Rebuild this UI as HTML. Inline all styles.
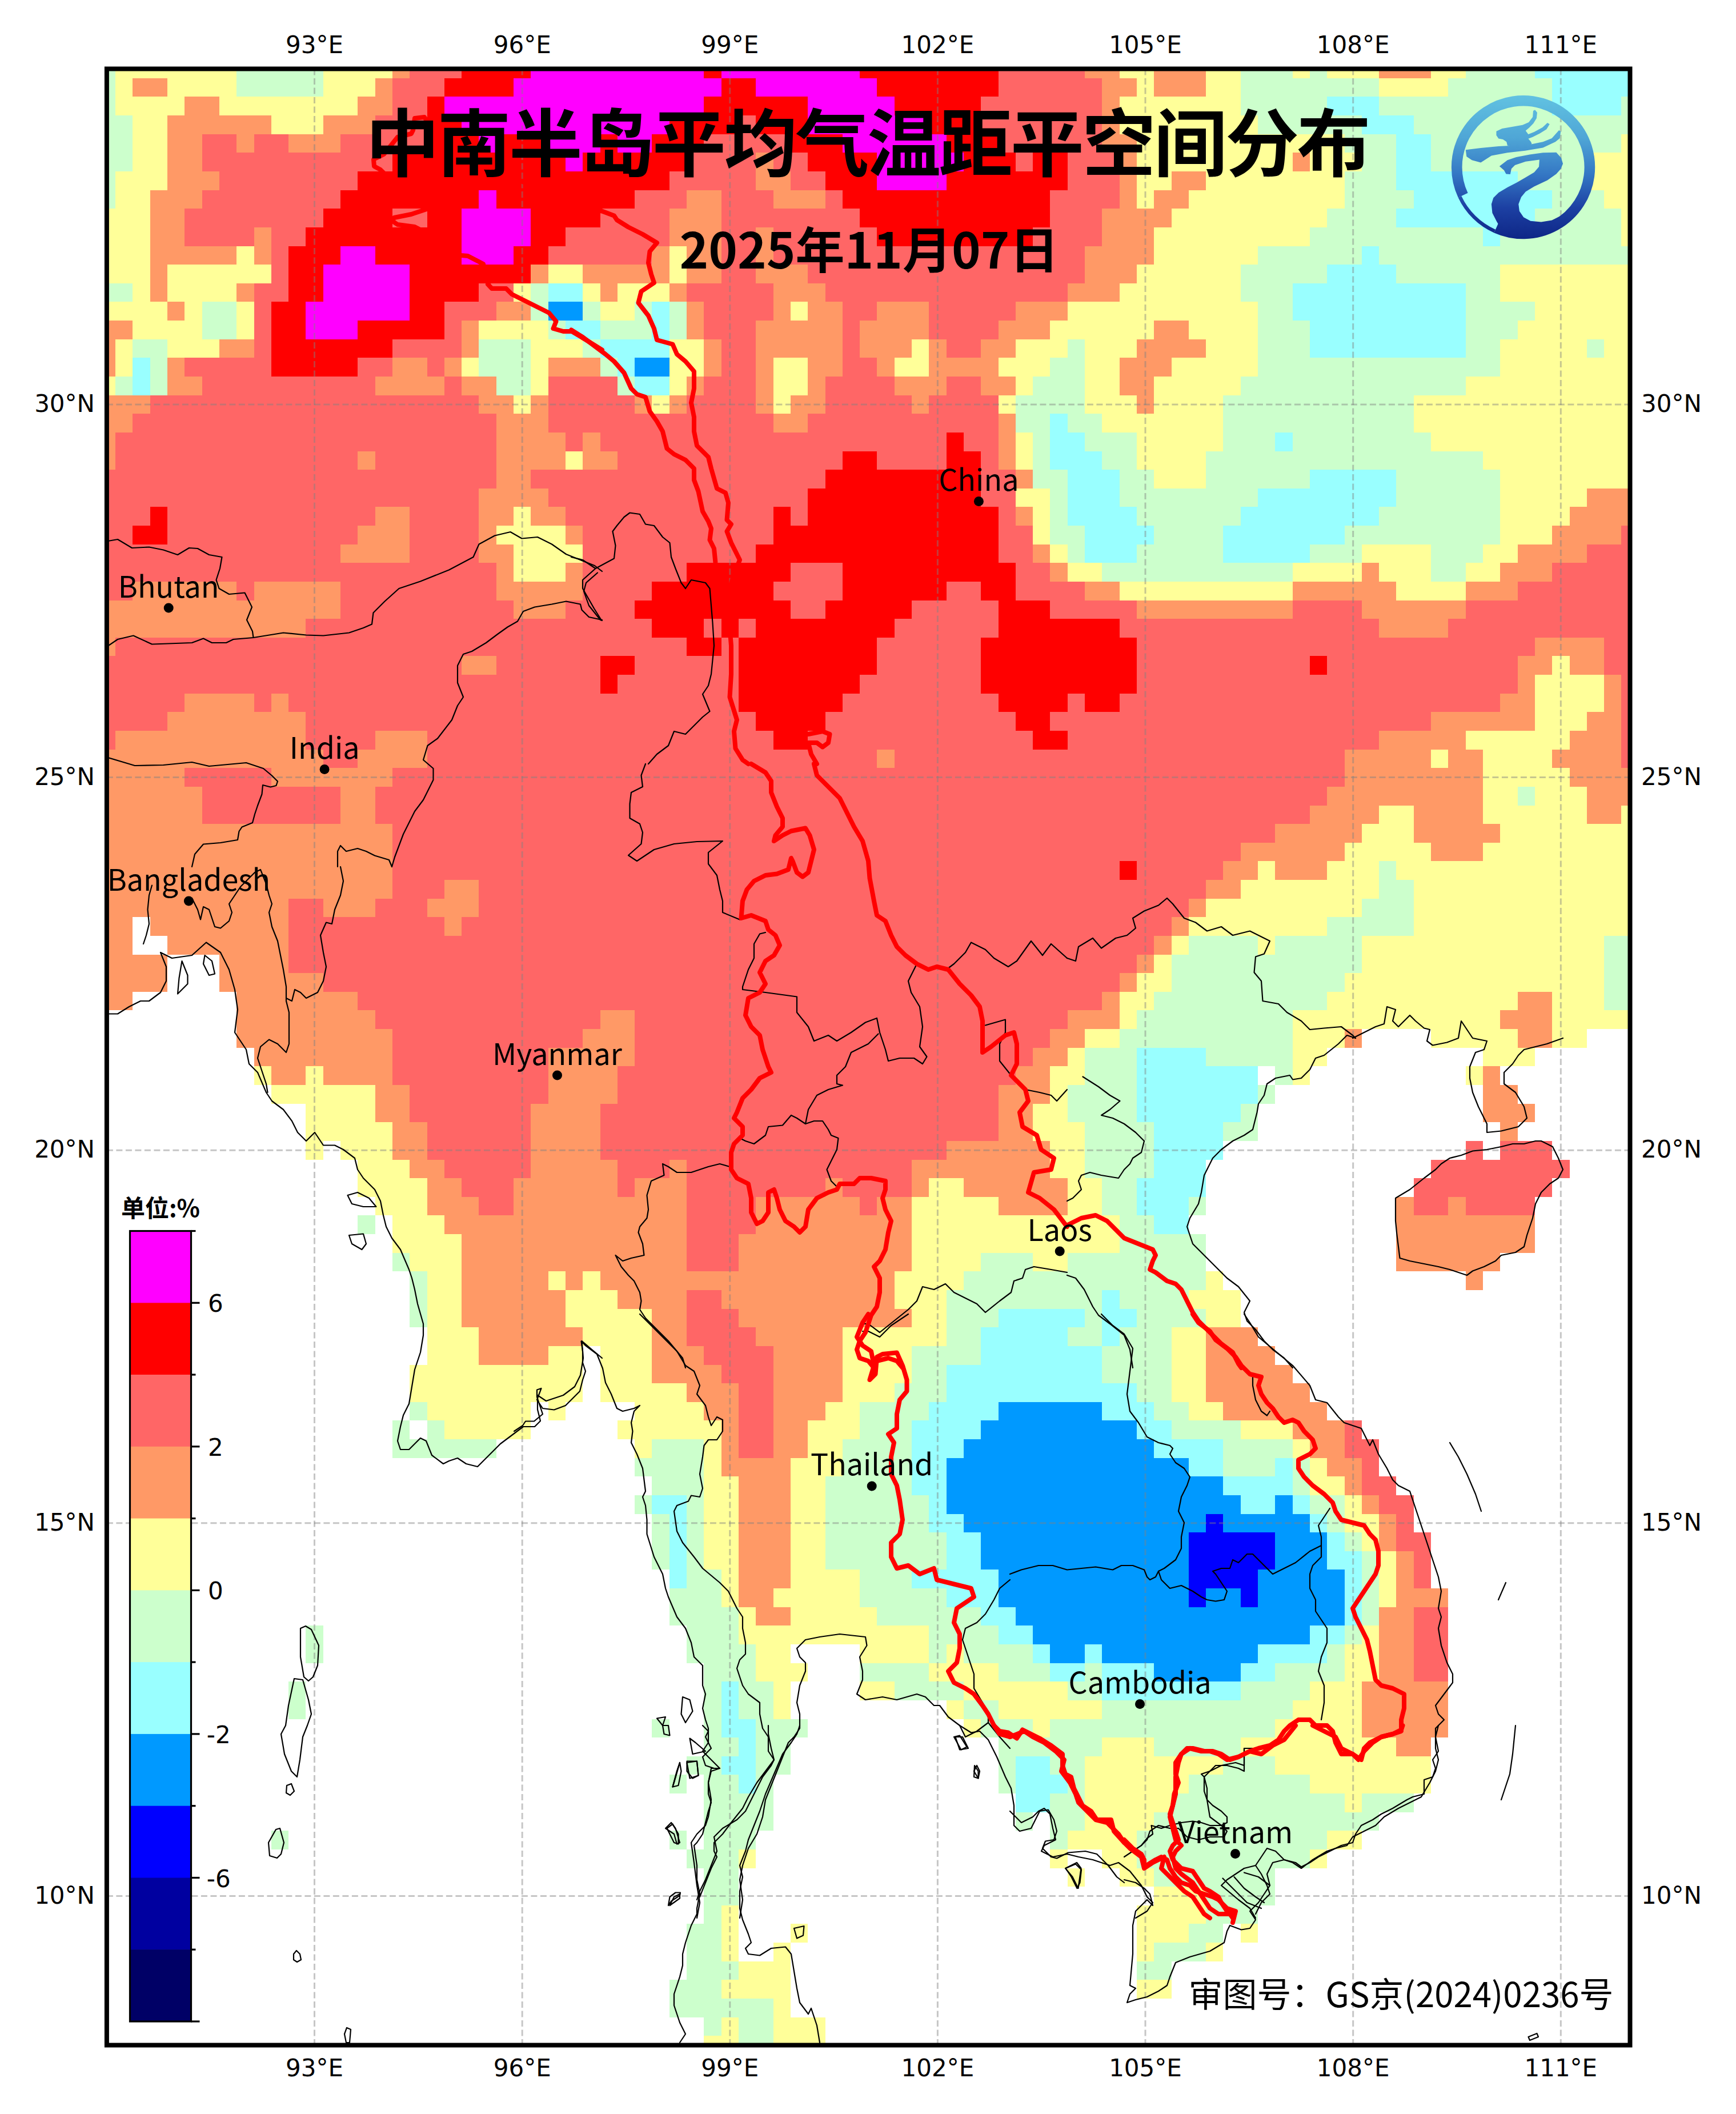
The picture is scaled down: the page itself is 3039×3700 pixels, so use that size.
<!DOCTYPE html>
<html><head><meta charset="utf-8"><title>中南半岛平均气温距平空间分布</title>
<style>
html,body{margin:0;padding:0;background:#fff;}
body{width:3039px;height:3700px;overflow:hidden;position:relative;}
svg{position:absolute;left:0;top:0;}
.tk{font-family:"DejaVu Sans",sans-serif;font-size:42px;fill:#000;}
.lb{font-family:"Noto Sans CJK SC","Liberation Sans",sans-serif;font-size:52px;fill:#000;}
.cj{font-family:"Noto Sans CJK SC","Noto Sans CJK JP",sans-serif;fill:#000;}
</style></head><body>
<svg width="3039" height="3700" viewBox="0 0 3039 3700" xmlns="http://www.w3.org/2000/svg">
<defs><clipPath id="ax"><rect x="186.9" y="120.5" width="2666.6" height="3459.0"/></clipPath></defs>
<g clip-path="url(#ax)">
<g shape-rendering="crispEdges"><path fill="#ccffcc" d="M186.9 120.5H202.1V136.8H186.9ZM414.2 120.5H565.7V136.8H414.2ZM2171.7 120.5H2262.6V136.8H2171.7ZM2292.9 120.5H2323.2V136.8H2292.9ZM2565.6 120.5H2686.9V136.8H2565.6ZM186.9 136.8H202.1V169.4H186.9ZM414.2 136.8H565.7V169.4H414.2ZM2171.7 136.8H2414.1V169.4H2171.7ZM2535.3 136.8H2717.2V169.4H2535.3ZM186.9 169.4H202.1V202.1H186.9ZM2171.7 169.4H2323.2V202.1H2171.7ZM2414.1 169.4H2717.2V202.1H2414.1ZM2838.4 169.4H2853.5V202.1H2838.4ZM186.9 202.1H232.4V234.7H186.9ZM2202.0 202.1H2383.8V234.7H2202.0ZM2474.7 202.1H2853.5V234.7H2474.7ZM186.9 234.7H232.4V267.3H186.9ZM2353.5 234.7H2444.4V267.3H2353.5ZM2505.0 234.7H2838.4V267.3H2505.0ZM186.9 267.3H232.4V300.0H186.9ZM2383.8 267.3H2444.4V300.0H2383.8ZM2505.0 267.3H2777.8V300.0H2505.0ZM186.9 300.0H202.1V332.6H186.9ZM2353.5 300.0H2444.4V332.6H2353.5ZM2656.6 300.0H2777.8V332.6H2656.6ZM186.9 332.6H202.1V365.2H186.9ZM2353.5 332.6H2474.7V365.2H2353.5ZM2717.2 332.6H2808.1V365.2H2717.2ZM2323.2 365.2H2444.4V397.9H2323.2ZM2686.9 365.2H2838.4V397.9H2686.9ZM2292.9 397.9H2595.9V430.5H2292.9ZM2626.3 397.9H2838.4V430.5H2626.3ZM2202.0 430.5H2383.8V463.1H2202.0ZM2414.1 430.5H2853.5V463.1H2414.1ZM2171.7 463.1H2323.2V495.8H2171.7ZM2444.4 463.1H2626.3V495.8H2444.4ZM186.9 495.8H232.4V528.4H186.9ZM929.3 495.8H959.6V528.4H929.3ZM2171.7 495.8H2262.6V528.4H2171.7ZM2565.6 495.8H2626.3V528.4H2565.6ZM353.6 528.4H414.2V561.0H353.6ZM929.3 528.4H959.6V561.0H929.3ZM1020.2 528.4H1050.5V561.0H1020.2ZM1111.1 528.4H1141.4V561.0H1111.1ZM1171.7 528.4H1202.0V561.0H1171.7ZM2202.0 528.4H2262.6V561.0H2202.0ZM2565.6 528.4H2686.9V561.0H2565.6ZM353.6 561.0H414.2V593.7H353.6ZM959.6 561.0H989.9V593.7H959.6ZM1050.5 561.0H1141.4V593.7H1050.5ZM1171.7 561.0H1202.0V593.7H1171.7ZM2202.0 561.0H2292.9V593.7H2202.0ZM2565.6 561.0H2656.6V593.7H2565.6ZM232.4 593.7H293.0V626.3H232.4ZM838.4 593.7H929.3V626.3H838.4ZM1020.2 593.7H1050.5V626.3H1020.2ZM1868.7 593.7H1899.0V626.3H1868.7ZM2202.0 593.7H2292.9V626.3H2202.0ZM2565.6 593.7H2626.3V626.3H2565.6ZM2777.8 593.7H2808.1V626.3H2777.8ZM262.7 626.3H293.0V658.9H262.7ZM838.4 626.3H929.3V658.9H838.4ZM1050.5 626.3H1080.8V658.9H1050.5ZM1838.4 626.3H1899.0V658.9H1838.4ZM2202.0 626.3H2626.3V658.9H2202.0ZM202.1 658.9H232.4V691.6H202.1ZM262.7 658.9H293.0V691.6H262.7ZM868.7 658.9H929.3V691.6H868.7ZM1080.8 658.9H1111.1V691.6H1080.8ZM1808.1 658.9H1899.0V691.6H1808.1ZM2171.7 658.9H2565.6V691.6H2171.7ZM1777.8 691.6H1899.0V724.2H1777.8ZM2141.4 691.6H2474.7V724.2H2141.4ZM1777.8 724.2H1838.4V756.8H1777.8ZM1868.7 724.2H1929.3V756.8H1868.7ZM2141.4 724.2H2474.7V756.8H2141.4ZM1808.1 756.8H1838.4V789.5H1808.1ZM1899.0 756.8H1989.9V789.5H1899.0ZM2141.4 756.8H2232.3V789.5H2141.4ZM2262.6 756.8H2505.0V789.5H2262.6ZM1808.1 789.5H1838.4V822.1H1808.1ZM1929.3 789.5H1989.9V822.1H1929.3ZM2111.1 789.5H2595.9V822.1H2111.1ZM1808.1 822.1H1868.7V854.7H1808.1ZM1959.6 822.1H2020.2V854.7H1959.6ZM2111.1 822.1H2292.9V854.7H2111.1ZM2444.4 822.1H2626.3V854.7H2444.4ZM1838.4 854.7H1868.7V887.4H1838.4ZM1959.6 854.7H2202.0V887.4H1959.6ZM2444.4 854.7H2626.3V887.4H2444.4ZM1838.4 887.4H1868.7V920.0H1838.4ZM1989.9 887.4H2171.7V920.0H1989.9ZM2414.1 887.4H2626.3V920.0H2414.1ZM1838.4 920.0H1899.0V952.6H1838.4ZM2020.2 920.0H2141.4V952.6H2020.2ZM2353.5 920.0H2626.3V952.6H2353.5ZM1868.7 952.6H1899.0V985.3H1868.7ZM1989.9 952.6H2141.4V985.3H1989.9ZM2292.9 952.6H2383.8V985.3H2292.9ZM2505.0 952.6H2595.9V985.3H2505.0ZM1929.3 985.3H2262.6V1017.9H1929.3ZM2505.0 985.3H2565.6V1017.9H2505.0ZM2656.6 1376.9H2686.9V1409.5H2656.6ZM2414.1 1507.4H2444.4V1540.0H2414.1ZM2414.1 1540.0H2474.7V1572.6H2414.1ZM2383.8 1572.6H2474.7V1605.3H2383.8ZM2323.2 1605.3H2474.7V1637.9H2323.2ZM2080.8 1637.9H2202.0V1670.5H2080.8ZM2232.3 1637.9H2383.8V1670.5H2232.3ZM2808.1 1637.9H2853.5V1670.5H2808.1ZM2050.5 1670.5H2383.8V1703.2H2050.5ZM2808.1 1670.5H2853.5V1703.2H2808.1ZM2050.5 1703.2H2353.5V1735.8H2050.5ZM2808.1 1703.2H2853.5V1735.8H2808.1ZM2020.2 1735.8H2323.2V1768.4H2020.2ZM2808.1 1735.8H2853.5V1768.4H2808.1ZM1989.9 1768.4H2262.6V1801.1H1989.9ZM1959.6 1801.1H2262.6V1833.7H1959.6ZM1899.0 1833.7H1989.9V1866.3H1899.0ZM2111.1 1833.7H2262.6V1866.3H2111.1ZM1899.0 1866.3H1989.9V1899.0H1899.0ZM2232.3 1866.3H2262.6V1899.0H2232.3ZM1868.7 1899.0H1989.9V1931.6H1868.7ZM2202.0 1899.0H2232.3V1931.6H2202.0ZM1868.7 1931.6H1989.9V1964.2H1868.7ZM2171.7 1931.6H2202.0V1964.2H2171.7ZM1899.0 1964.2H2020.2V1996.9H1899.0ZM2141.4 1964.2H2202.0V1996.9H2141.4ZM1899.0 1996.9H2020.2V2029.5H1899.0ZM1899.0 2029.5H2020.2V2062.1H1899.0ZM1929.3 2062.1H1989.9V2094.8H1929.3ZM1929.3 2094.8H1989.9V2127.4H1929.3ZM2080.8 2094.8H2111.1V2127.4H2080.8ZM626.3 2127.4H656.6V2160.0H626.3ZM1959.6 2127.4H2020.2V2160.0H1959.6ZM1959.6 2160.0H2111.1V2192.7H1959.6ZM686.9 2192.7H717.2V2225.3H686.9ZM1717.2 2192.7H1808.1V2225.3H1717.2ZM1868.7 2192.7H2111.1V2225.3H1868.7ZM717.2 2225.3H747.5V2257.9H717.2ZM1686.9 2225.3H2111.1V2257.9H1686.9ZM717.2 2257.9H747.5V2290.6H717.2ZM1656.6 2257.9H1929.3V2290.6H1656.6ZM1959.6 2257.9H2080.8V2290.6H1959.6ZM717.2 2290.6H747.5V2323.2H717.2ZM1656.6 2290.6H1747.5V2323.2H1656.6ZM1899.0 2290.6H1929.3V2323.2H1899.0ZM1989.9 2290.6H2111.1V2323.2H1989.9ZM1656.6 2323.2H1717.2V2355.8H1656.6ZM1868.7 2323.2H1929.3V2355.8H1868.7ZM1959.6 2323.2H2050.5V2355.8H1959.6ZM1596.0 2355.8H1717.2V2388.5H1596.0ZM1929.3 2355.8H2050.5V2388.5H1929.3ZM1596.0 2388.5H1656.6V2421.1H1596.0ZM1929.3 2388.5H2050.5V2421.1H1929.3ZM1565.7 2421.1H1656.6V2453.7H1565.7ZM1989.9 2421.1H2050.5V2453.7H1989.9ZM717.2 2453.7H747.5V2486.4H717.2ZM1505.1 2453.7H1626.3V2486.4H1505.1ZM2020.2 2453.7H2080.8V2486.4H2020.2ZM686.9 2486.4H717.2V2519.0H686.9ZM747.5 2486.4H777.8V2519.0H747.5ZM1505.1 2486.4H1596.0V2519.0H1505.1ZM2050.5 2486.4H2171.7V2519.0H2050.5ZM686.9 2519.0H868.7V2551.6H686.9ZM1141.4 2519.0H1232.3V2551.6H1141.4ZM1474.8 2519.0H1596.0V2551.6H1474.8ZM2141.4 2519.0H2262.6V2551.6H2141.4ZM1111.1 2551.6H1232.3V2584.3H1111.1ZM1474.8 2551.6H1596.0V2584.3H1474.8ZM2141.4 2551.6H2232.3V2584.3H2141.4ZM2262.6 2551.6H2292.9V2584.3H2262.6ZM1141.4 2584.3H1232.3V2616.9H1141.4ZM1444.5 2584.3H1596.0V2616.9H1444.5ZM2262.6 2584.3H2292.9V2616.9H2262.6ZM1111.1 2616.9H1141.4V2649.5H1111.1ZM1202.0 2616.9H1232.3V2649.5H1202.0ZM1444.5 2616.9H1626.3V2649.5H1444.5ZM2292.9 2616.9H2353.5V2649.5H2292.9ZM1141.4 2649.5H1171.7V2682.2H1141.4ZM1202.0 2649.5H1232.3V2682.2H1202.0ZM1444.5 2649.5H1626.3V2682.2H1444.5ZM2323.2 2649.5H2353.5V2682.2H2323.2ZM1141.4 2682.2H1171.7V2714.8H1141.4ZM1202.0 2682.2H1232.3V2714.8H1202.0ZM1444.5 2682.2H1656.6V2714.8H1444.5ZM2353.5 2682.2H2383.8V2714.8H2353.5ZM1141.4 2714.8H1171.7V2747.4H1141.4ZM1202.0 2714.8H1232.3V2747.4H1202.0ZM1444.5 2714.8H1656.6V2747.4H1444.5ZM2383.8 2714.8H2414.1V2747.4H2383.8ZM1202.0 2747.4H1262.6V2780.0H1202.0ZM1505.1 2747.4H1596.0V2780.0H1505.1ZM2383.8 2747.4H2414.1V2780.0H2383.8ZM1171.7 2780.0H1262.6V2812.7H1171.7ZM1505.1 2780.0H1656.6V2812.7H1505.1ZM2383.8 2780.0H2414.1V2812.7H2383.8ZM1171.7 2812.7H1292.9V2845.3H1171.7ZM1535.4 2812.7H1717.2V2845.3H1535.4ZM2383.8 2812.7H2414.1V2845.3H2383.8ZM535.4 2845.3H565.7V2877.9H535.4ZM1202.0 2845.3H1292.9V2877.9H1202.0ZM1626.3 2845.3H1747.5V2877.9H1626.3ZM2353.5 2845.3H2383.8V2877.9H2353.5ZM535.4 2877.9H565.7V2910.6H535.4ZM1202.0 2877.9H1323.2V2910.6H1202.0ZM1626.3 2877.9H1656.6V2910.6H1626.3ZM1686.9 2877.9H1808.1V2910.6H1686.9ZM2323.2 2877.9H2353.5V2910.6H2323.2ZM1232.3 2910.6H1323.2V2943.2H1232.3ZM1505.1 2910.6H1626.3V2943.2H1505.1ZM1747.5 2910.6H1838.4V2943.2H1747.5ZM1899.0 2910.6H1929.3V2943.2H1899.0ZM2232.3 2910.6H2353.5V2943.2H2232.3ZM505.1 2943.2H535.4V2975.8H505.1ZM1232.3 2943.2H1262.6V2975.8H1232.3ZM1292.9 2943.2H1353.5V2975.8H1292.9ZM1565.7 2943.2H1686.9V2975.8H1565.7ZM1868.7 2943.2H1929.3V2975.8H1868.7ZM2171.7 2943.2H2292.9V2975.8H2171.7ZM505.1 2975.8H535.4V3008.5H505.1ZM1232.3 2975.8H1262.6V3008.5H1232.3ZM1292.9 2975.8H1353.5V3008.5H1292.9ZM1686.9 2975.8H1747.5V3008.5H1686.9ZM1929.3 2975.8H2262.6V3008.5H1929.3ZM1141.4 3008.5H1171.7V3041.1H1141.4ZM1232.3 3008.5H1262.6V3041.1H1232.3ZM1323.2 3008.5H1414.2V3041.1H1323.2ZM1717.2 3008.5H1808.1V3041.1H1717.2ZM1838.4 3008.5H2232.3V3041.1H1838.4ZM1232.3 3041.1H1292.9V3073.7H1232.3ZM1323.2 3041.1H1383.8V3073.7H1323.2ZM1747.5 3041.1H1929.3V3073.7H1747.5ZM2020.2 3041.1H2171.7V3073.7H2020.2ZM1202.0 3073.7H1262.6V3106.4H1202.0ZM1323.2 3073.7H1383.8V3106.4H1323.2ZM1747.5 3073.7H1777.8V3106.4H1747.5ZM1838.4 3073.7H1899.0V3106.4H1838.4ZM2141.4 3073.7H2232.3V3106.4H2141.4ZM1171.7 3106.4H1202.0V3139.0H1171.7ZM1232.3 3106.4H1292.9V3139.0H1232.3ZM1323.2 3106.4H1353.5V3139.0H1323.2ZM1747.5 3106.4H1777.8V3139.0H1747.5ZM1868.7 3106.4H1899.0V3139.0H1868.7ZM2080.8 3106.4H2292.9V3139.0H2080.8ZM1232.3 3139.0H1353.5V3171.6H1232.3ZM1838.4 3139.0H1899.0V3171.6H1838.4ZM2050.5 3139.0H2353.5V3171.6H2050.5ZM2383.8 3139.0H2474.7V3171.6H2383.8ZM1232.3 3171.6H1353.5V3204.3H1232.3ZM1777.8 3171.6H1808.1V3204.3H1777.8ZM1838.4 3171.6H1899.0V3204.3H1838.4ZM2020.2 3171.6H2414.1V3204.3H2020.2ZM474.8 3204.3H505.1V3236.9H474.8ZM1171.7 3204.3H1202.0V3236.9H1171.7ZM1232.3 3204.3H1323.2V3236.9H1232.3ZM1838.4 3204.3H1868.7V3236.9H1838.4ZM1989.9 3204.3H2323.2V3236.9H1989.9ZM1202.0 3236.9H1292.9V3269.5H1202.0ZM1989.9 3236.9H2292.9V3269.5H1989.9ZM1232.3 3269.5H1292.9V3302.2H1232.3ZM2020.2 3269.5H2232.3V3302.2H2020.2ZM1232.3 3302.2H1292.9V3334.8H1232.3ZM2111.1 3302.2H2232.3V3334.8H2111.1ZM1232.3 3334.8H1262.6V3367.4H1232.3ZM2111.1 3334.8H2202.0V3367.4H2111.1ZM1202.0 3367.4H1262.6V3400.1H1202.0ZM2080.8 3367.4H2141.4V3400.1H2080.8ZM1202.0 3400.1H1262.6V3432.7H1202.0ZM2020.2 3400.1H2111.1V3432.7H2020.2ZM1202.0 3432.7H1292.9V3465.3H1202.0ZM1989.9 3432.7H2050.5V3465.3H1989.9ZM1171.7 3465.3H1262.6V3498.0H1171.7ZM1171.7 3498.0H1353.5V3530.6H1171.7ZM1232.3 3530.6H1262.6V3563.2H1232.3ZM1292.9 3530.6H1353.5V3563.2H1292.9ZM1292.9 3563.2H1353.5V3579.5H1292.9Z"/><path fill="#ffff99" d="M202.1 120.5H414.2V136.8H202.1ZM565.7 120.5H686.9V136.8H565.7ZM1959.6 120.5H2020.2V136.8H1959.6ZM2111.1 120.5H2171.7V136.8H2111.1ZM2262.6 120.5H2292.9V136.8H2262.6ZM2323.2 120.5H2414.1V136.8H2323.2ZM2505.0 120.5H2565.6V136.8H2505.0ZM202.1 136.8H232.4V169.4H202.1ZM293.0 136.8H414.2V169.4H293.0ZM565.7 136.8H656.6V169.4H565.7ZM1989.9 136.8H2020.2V169.4H1989.9ZM2111.1 136.8H2171.7V169.4H2111.1ZM2414.1 136.8H2535.3V169.4H2414.1ZM202.1 169.4H323.3V202.1H202.1ZM383.9 169.4H626.3V202.1H383.9ZM1959.6 169.4H2171.7V202.1H1959.6ZM232.4 202.1H293.0V234.7H232.4ZM474.8 202.1H565.7V234.7H474.8ZM1959.6 202.1H2202.0V234.7H1959.6ZM232.4 234.7H293.0V267.3H232.4ZM1989.9 234.7H2353.5V267.3H1989.9ZM2838.4 234.7H2853.5V267.3H2838.4ZM232.4 267.3H293.0V300.0H232.4ZM1989.9 267.3H2262.6V300.0H1989.9ZM2292.9 267.3H2383.8V300.0H2292.9ZM2777.8 267.3H2853.5V300.0H2777.8ZM202.1 300.0H293.0V332.6H202.1ZM1989.9 300.0H2050.5V332.6H1989.9ZM2111.1 300.0H2353.5V332.6H2111.1ZM2777.8 300.0H2853.5V332.6H2777.8ZM202.1 332.6H262.7V365.2H202.1ZM1989.9 332.6H2020.2V365.2H1989.9ZM2080.8 332.6H2353.5V365.2H2080.8ZM2808.1 332.6H2853.5V365.2H2808.1ZM186.9 365.2H262.7V397.9H186.9ZM2050.5 365.2H2323.2V397.9H2050.5ZM2838.4 365.2H2853.5V397.9H2838.4ZM186.9 397.9H262.7V430.5H186.9ZM2020.2 397.9H2292.9V430.5H2020.2ZM2838.4 397.9H2853.5V430.5H2838.4ZM186.9 430.5H262.7V463.1H186.9ZM414.2 430.5H444.5V463.1H414.2ZM1171.7 430.5H1202.0V463.1H1171.7ZM2020.2 430.5H2202.0V463.1H2020.2ZM186.9 463.1H262.7V495.8H186.9ZM293.0 463.1H474.8V495.8H293.0ZM959.6 463.1H1020.2V495.8H959.6ZM1171.7 463.1H1202.0V495.8H1171.7ZM1989.9 463.1H2171.7V495.8H1989.9ZM2626.3 463.1H2853.5V495.8H2626.3ZM232.4 495.8H262.7V528.4H232.4ZM293.0 495.8H414.2V528.4H293.0ZM899.0 495.8H929.3V528.4H899.0ZM1020.2 495.8H1050.5V528.4H1020.2ZM1080.8 495.8H1171.7V528.4H1080.8ZM1959.6 495.8H2171.7V528.4H1959.6ZM2626.3 495.8H2853.5V528.4H2626.3ZM186.9 528.4H293.0V561.0H186.9ZM323.3 528.4H353.6V561.0H323.3ZM414.2 528.4H444.5V561.0H414.2ZM1050.5 528.4H1111.1V561.0H1050.5ZM1383.8 528.4H1414.2V561.0H1383.8ZM1868.7 528.4H2202.0V561.0H1868.7ZM2686.9 528.4H2853.5V561.0H2686.9ZM232.4 561.0H353.6V593.7H232.4ZM414.2 561.0H444.5V593.7H414.2ZM838.4 561.0H959.6V593.7H838.4ZM1838.4 561.0H2020.2V593.7H1838.4ZM2080.8 561.0H2202.0V593.7H2080.8ZM2656.6 561.0H2853.5V593.7H2656.6ZM202.1 593.7H232.4V626.3H202.1ZM293.0 593.7H383.9V626.3H293.0ZM929.3 593.7H1020.2V626.3H929.3ZM1171.7 593.7H1232.3V626.3H1171.7ZM1596.0 593.7H1626.3V626.3H1596.0ZM1777.8 593.7H1868.7V626.3H1777.8ZM1899.0 593.7H1989.9V626.3H1899.0ZM2111.1 593.7H2202.0V626.3H2111.1ZM2626.3 593.7H2777.8V626.3H2626.3ZM2808.1 593.7H2853.5V626.3H2808.1ZM202.1 626.3H232.4V658.9H202.1ZM808.1 626.3H838.4V658.9H808.1ZM929.3 626.3H959.6V658.9H929.3ZM1171.7 626.3H1232.3V658.9H1171.7ZM1353.5 626.3H1414.2V658.9H1353.5ZM1565.7 626.3H1626.3V658.9H1565.7ZM1747.5 626.3H1838.4V658.9H1747.5ZM1899.0 626.3H1959.6V658.9H1899.0ZM2050.5 626.3H2202.0V658.9H2050.5ZM2626.3 626.3H2853.5V658.9H2626.3ZM186.9 658.9H202.1V691.6H186.9ZM929.3 658.9H959.6V691.6H929.3ZM1171.7 658.9H1202.0V691.6H1171.7ZM1353.5 658.9H1414.2V691.6H1353.5ZM1777.8 658.9H1808.1V691.6H1777.8ZM1899.0 658.9H1959.6V691.6H1899.0ZM2020.2 658.9H2171.7V691.6H2020.2ZM2565.6 658.9H2853.5V691.6H2565.6ZM899.0 691.6H929.3V724.2H899.0ZM1141.4 691.6H1171.7V724.2H1141.4ZM1353.5 691.6H1383.8V724.2H1353.5ZM1747.5 691.6H1777.8V724.2H1747.5ZM1899.0 691.6H1989.9V724.2H1899.0ZM2020.2 691.6H2141.4V724.2H2020.2ZM2474.7 691.6H2853.5V724.2H2474.7ZM1929.3 724.2H2141.4V756.8H1929.3ZM2474.7 724.2H2853.5V756.8H2474.7ZM1777.8 756.8H1808.1V789.5H1777.8ZM1989.9 756.8H2141.4V789.5H1989.9ZM2505.0 756.8H2853.5V789.5H2505.0ZM989.9 789.5H1020.2V822.1H989.9ZM1777.8 789.5H1808.1V822.1H1777.8ZM1989.9 789.5H2111.1V822.1H1989.9ZM2595.9 789.5H2853.5V822.1H2595.9ZM2020.2 822.1H2111.1V854.7H2020.2ZM2626.3 822.1H2853.5V854.7H2626.3ZM1777.8 854.7H1838.4V887.4H1777.8ZM2626.3 854.7H2777.8V887.4H2626.3ZM899.0 887.4H929.3V920.0H899.0ZM1808.1 887.4H1838.4V920.0H1808.1ZM2626.3 887.4H2747.5V920.0H2626.3ZM868.7 920.0H989.9V952.6H868.7ZM1808.1 920.0H1838.4V952.6H1808.1ZM2626.3 920.0H2717.2V952.6H2626.3ZM899.0 952.6H1020.2V985.3H899.0ZM1838.4 952.6H1868.7V985.3H1838.4ZM2383.8 952.6H2505.0V985.3H2383.8ZM2595.9 952.6H2656.6V985.3H2595.9ZM899.0 985.3H989.9V1017.9H899.0ZM1868.7 985.3H1929.3V1017.9H1868.7ZM2262.6 985.3H2383.8V1017.9H2262.6ZM2414.1 985.3H2505.0V1017.9H2414.1ZM2565.6 985.3H2626.3V1017.9H2565.6ZM1959.6 1017.9H2262.6V1050.5H1959.6ZM2444.4 1017.9H2565.6V1050.5H2444.4ZM2717.2 1148.4H2747.5V1181.1H2717.2ZM2686.9 1181.1H2808.1V1213.7H2686.9ZM2686.9 1213.7H2808.1V1246.3H2686.9ZM2686.9 1246.3H2777.8V1279.0H2686.9ZM2565.6 1279.0H2747.5V1311.6H2565.6ZM2505.0 1311.6H2535.3V1344.2H2505.0ZM2595.9 1311.6H2717.2V1344.2H2595.9ZM2595.9 1344.2H2747.5V1376.9H2595.9ZM2595.9 1376.9H2656.6V1409.5H2595.9ZM2686.9 1376.9H2777.8V1409.5H2686.9ZM2414.1 1409.5H2474.7V1442.1H2414.1ZM2595.9 1409.5H2777.8V1442.1H2595.9ZM2838.4 1409.5H2853.5V1442.1H2838.4ZM2383.8 1442.1H2474.7V1474.7H2383.8ZM2626.3 1442.1H2853.5V1474.7H2626.3ZM2353.5 1474.7H2505.0V1507.4H2353.5ZM2595.9 1474.7H2853.5V1507.4H2595.9ZM2202.0 1507.4H2232.3V1540.0H2202.0ZM2323.2 1507.4H2414.1V1540.0H2323.2ZM2444.4 1507.4H2853.5V1540.0H2444.4ZM2171.7 1540.0H2414.1V1572.6H2171.7ZM2474.7 1540.0H2853.5V1572.6H2474.7ZM2111.1 1572.6H2383.8V1605.3H2111.1ZM2474.7 1572.6H2853.5V1605.3H2474.7ZM2080.8 1605.3H2323.2V1637.9H2080.8ZM2474.7 1605.3H2853.5V1637.9H2474.7ZM2050.5 1637.9H2080.8V1670.5H2050.5ZM2202.0 1637.9H2232.3V1670.5H2202.0ZM2383.8 1637.9H2808.1V1670.5H2383.8ZM2020.2 1670.5H2050.5V1703.2H2020.2ZM2383.8 1670.5H2808.1V1703.2H2383.8ZM1989.9 1703.2H2050.5V1735.8H1989.9ZM2353.5 1703.2H2808.1V1735.8H2353.5ZM1959.6 1735.8H2020.2V1768.4H1959.6ZM2323.2 1735.8H2656.6V1768.4H2323.2ZM2717.2 1735.8H2808.1V1768.4H2717.2ZM1959.6 1768.4H1989.9V1801.1H1959.6ZM2262.6 1768.4H2626.3V1801.1H2262.6ZM2717.2 1768.4H2853.5V1801.1H2717.2ZM1899.0 1801.1H1959.6V1833.7H1899.0ZM2262.6 1801.1H2353.5V1833.7H2262.6ZM2505.0 1801.1H2656.6V1833.7H2505.0ZM2717.2 1801.1H2777.8V1833.7H2717.2ZM1868.7 1833.7H1899.0V1866.3H1868.7ZM2262.6 1833.7H2323.2V1866.3H2262.6ZM2595.9 1833.7H2686.9V1866.3H2595.9ZM444.5 1866.3H474.8V1899.0H444.5ZM535.4 1866.3H565.7V1899.0H535.4ZM1838.4 1866.3H1899.0V1899.0H1838.4ZM2262.6 1866.3H2292.9V1899.0H2262.6ZM2565.6 1866.3H2595.9V1899.0H2565.6ZM474.8 1899.0H656.6V1931.6H474.8ZM1838.4 1899.0H1868.7V1931.6H1838.4ZM535.4 1931.6H656.6V1964.2H535.4ZM1808.1 1931.6H1868.7V1964.2H1808.1ZM535.4 1964.2H686.9V1996.9H535.4ZM1808.1 1964.2H1899.0V1996.9H1808.1ZM535.4 1996.9H565.7V2029.5H535.4ZM596.0 1996.9H686.9V2029.5H596.0ZM1838.4 1996.9H1899.0V2029.5H1838.4ZM626.3 2029.5H717.2V2062.1H626.3ZM1838.4 2029.5H1899.0V2062.1H1838.4ZM626.3 2062.1H747.5V2094.8H626.3ZM1626.3 2062.1H1686.9V2094.8H1626.3ZM1868.7 2062.1H1929.3V2094.8H1868.7ZM656.6 2094.8H747.5V2127.4H656.6ZM1596.0 2094.8H1747.5V2127.4H1596.0ZM1868.7 2094.8H1929.3V2127.4H1868.7ZM686.9 2127.4H777.8V2160.0H686.9ZM1596.0 2127.4H1959.6V2160.0H1596.0ZM686.9 2160.0H808.1V2192.7H686.9ZM1596.0 2160.0H1959.6V2192.7H1596.0ZM717.2 2192.7H808.1V2225.3H717.2ZM1596.0 2192.7H1717.2V2225.3H1596.0ZM1808.1 2192.7H1868.7V2225.3H1808.1ZM747.5 2225.3H808.1V2257.9H747.5ZM959.6 2225.3H989.9V2257.9H959.6ZM1020.2 2225.3H1050.5V2257.9H1020.2ZM1565.7 2225.3H1686.9V2257.9H1565.7ZM2111.1 2225.3H2141.4V2257.9H2111.1ZM747.5 2257.9H808.1V2290.6H747.5ZM989.9 2257.9H1080.8V2290.6H989.9ZM1565.7 2257.9H1656.6V2290.6H1565.7ZM2080.8 2257.9H2171.7V2290.6H2080.8ZM747.5 2290.6H808.1V2323.2H747.5ZM989.9 2290.6H1141.4V2323.2H989.9ZM1596.0 2290.6H1656.6V2323.2H1596.0ZM2111.1 2290.6H2171.7V2323.2H2111.1ZM747.5 2323.2H838.4V2355.8H747.5ZM1020.2 2323.2H1141.4V2355.8H1020.2ZM1474.8 2323.2H1656.6V2355.8H1474.8ZM2050.5 2323.2H2111.1V2355.8H2050.5ZM747.5 2355.8H838.4V2388.5H747.5ZM959.6 2355.8H1020.2V2388.5H959.6ZM1050.5 2355.8H1141.4V2388.5H1050.5ZM1474.8 2355.8H1596.0V2388.5H1474.8ZM2050.5 2355.8H2111.1V2388.5H2050.5ZM717.2 2388.5H1020.2V2421.1H717.2ZM1050.5 2388.5H1141.4V2421.1H1050.5ZM1474.8 2388.5H1596.0V2421.1H1474.8ZM2050.5 2388.5H2111.1V2421.1H2050.5ZM717.2 2421.1H1020.2V2453.7H717.2ZM1050.5 2421.1H1202.0V2453.7H1050.5ZM1474.8 2421.1H1565.7V2453.7H1474.8ZM2050.5 2421.1H2111.1V2453.7H2050.5ZM747.5 2453.7H929.3V2486.4H747.5ZM959.6 2453.7H989.9V2486.4H959.6ZM1111.1 2453.7H1232.3V2486.4H1111.1ZM1444.5 2453.7H1505.1V2486.4H1444.5ZM2080.8 2453.7H2141.4V2486.4H2080.8ZM777.8 2486.4H929.3V2519.0H777.8ZM1080.8 2486.4H1262.6V2519.0H1080.8ZM1414.2 2486.4H1505.1V2519.0H1414.2ZM2171.7 2486.4H2262.6V2519.0H2171.7ZM1111.1 2519.0H1141.4V2551.6H1111.1ZM1232.3 2519.0H1262.6V2551.6H1232.3ZM1414.2 2519.0H1474.8V2551.6H1414.2ZM2262.6 2519.0H2292.9V2551.6H2262.6ZM1232.3 2551.6H1262.6V2584.3H1232.3ZM1383.8 2551.6H1474.8V2584.3H1383.8ZM2292.9 2551.6H2323.2V2584.3H2292.9ZM1232.3 2584.3H1292.9V2616.9H1232.3ZM1383.8 2584.3H1444.5V2616.9H1383.8ZM2292.9 2584.3H2353.5V2616.9H2292.9ZM1232.3 2616.9H1292.9V2649.5H1232.3ZM1383.8 2616.9H1444.5V2649.5H1383.8ZM2353.5 2616.9H2383.8V2649.5H2353.5ZM1232.3 2649.5H1292.9V2682.2H1232.3ZM1383.8 2649.5H1444.5V2682.2H1383.8ZM2353.5 2649.5H2414.1V2682.2H2353.5ZM1232.3 2682.2H1292.9V2714.8H1232.3ZM1383.8 2682.2H1444.5V2714.8H1383.8ZM2383.8 2682.2H2414.1V2714.8H2383.8ZM1232.3 2714.8H1292.9V2747.4H1232.3ZM1383.8 2714.8H1444.5V2747.4H1383.8ZM2414.1 2714.8H2444.4V2747.4H2414.1ZM1262.6 2747.4H1292.9V2780.0H1262.6ZM1383.8 2747.4H1505.1V2780.0H1383.8ZM2414.1 2747.4H2444.4V2780.0H2414.1ZM1262.6 2780.0H1292.9V2812.7H1262.6ZM1353.5 2780.0H1505.1V2812.7H1353.5ZM2414.1 2780.0H2444.4V2812.7H2414.1ZM1292.9 2812.7H1323.2V2845.3H1292.9ZM1383.8 2812.7H1535.4V2845.3H1383.8ZM1292.9 2845.3H1626.3V2877.9H1292.9ZM2383.8 2845.3H2414.1V2877.9H2383.8ZM1323.2 2877.9H1383.8V2910.6H1323.2ZM1505.1 2877.9H1626.3V2910.6H1505.1ZM1656.6 2877.9H1686.9V2910.6H1656.6ZM2353.5 2877.9H2414.1V2910.6H2353.5ZM1323.2 2910.6H1414.2V2943.2H1323.2ZM1626.3 2910.6H1747.5V2943.2H1626.3ZM2353.5 2910.6H2414.1V2943.2H2353.5ZM1353.5 2943.2H1383.8V2975.8H1353.5ZM1505.1 2943.2H1565.7V2975.8H1505.1ZM1686.9 2943.2H1868.7V2975.8H1686.9ZM2292.9 2943.2H2383.8V2975.8H2292.9ZM1353.5 2975.8H1383.8V3008.5H1353.5ZM1656.6 2975.8H1686.9V3008.5H1656.6ZM1747.5 2975.8H1929.3V3008.5H1747.5ZM2262.6 2975.8H2383.8V3008.5H2262.6ZM1686.9 3008.5H1717.2V3041.1H1686.9ZM1808.1 3008.5H1838.4V3041.1H1808.1ZM2232.3 3008.5H2383.8V3041.1H2232.3ZM1929.3 3041.1H2020.2V3073.7H1929.3ZM2171.7 3041.1H2444.4V3073.7H2171.7ZM1899.0 3073.7H2141.4V3106.4H1899.0ZM2232.3 3073.7H2505.0V3106.4H2232.3ZM1899.0 3106.4H2080.8V3139.0H1899.0ZM2292.9 3106.4H2505.0V3139.0H2292.9ZM1899.0 3139.0H2050.5V3171.6H1899.0ZM2353.5 3139.0H2383.8V3171.6H2353.5ZM1899.0 3171.6H2020.2V3204.3H1899.0ZM1868.7 3204.3H1989.9V3236.9H1868.7ZM2323.2 3204.3H2383.8V3236.9H2323.2ZM1292.9 3236.9H1323.2V3269.5H1292.9ZM1838.4 3236.9H1868.7V3269.5H1838.4ZM1929.3 3236.9H1989.9V3269.5H1929.3ZM2292.9 3236.9H2323.2V3269.5H2292.9ZM1868.7 3269.5H1899.0V3302.2H1868.7ZM1959.6 3269.5H2020.2V3302.2H1959.6ZM2020.2 3302.2H2111.1V3334.8H2020.2ZM1262.6 3334.8H1292.9V3367.4H1262.6ZM1989.9 3334.8H2111.1V3367.4H1989.9ZM1262.6 3367.4H1292.9V3400.1H1262.6ZM1383.8 3367.4H1414.2V3400.1H1383.8ZM1989.9 3367.4H2080.8V3400.1H1989.9ZM2171.7 3367.4H2202.0V3400.1H2171.7ZM1262.6 3400.1H1292.9V3432.7H1262.6ZM1353.5 3400.1H1383.8V3432.7H1353.5ZM1989.9 3400.1H2020.2V3432.7H1989.9ZM2111.1 3400.1H2141.4V3432.7H2111.1ZM1292.9 3432.7H1383.8V3465.3H1292.9ZM1262.6 3465.3H1383.8V3498.0H1262.6ZM1989.9 3465.3H2050.5V3498.0H1989.9ZM1353.5 3498.0H1383.8V3530.6H1353.5ZM1262.6 3530.6H1292.9V3563.2H1262.6ZM1353.5 3530.6H1444.5V3563.2H1353.5ZM1232.3 3563.2H1292.9V3579.5H1232.3ZM1353.5 3563.2H1444.5V3579.5H1353.5Z"/><path fill="#ff9966" d="M686.9 120.5H717.2V136.8H686.9ZM1899.0 120.5H1959.6V136.8H1899.0ZM2020.2 120.5H2111.1V136.8H2020.2ZM2414.1 120.5H2505.0V136.8H2414.1ZM232.4 136.8H293.0V169.4H232.4ZM656.6 136.8H686.9V169.4H656.6ZM1929.3 136.8H1989.9V169.4H1929.3ZM2020.2 136.8H2111.1V169.4H2020.2ZM323.3 169.4H383.9V202.1H323.3ZM626.3 169.4H686.9V202.1H626.3ZM1929.3 169.4H1959.6V202.1H1929.3ZM293.0 202.1H474.8V234.7H293.0ZM565.7 202.1H656.6V234.7H565.7ZM1929.3 202.1H1959.6V234.7H1929.3ZM293.0 234.7H353.6V267.3H293.0ZM414.2 234.7H444.5V267.3H414.2ZM505.1 234.7H596.0V267.3H505.1ZM1929.3 234.7H1989.9V267.3H1929.3ZM293.0 267.3H353.6V300.0H293.0ZM1323.2 267.3H1353.5V300.0H1323.2ZM1959.6 267.3H1989.9V300.0H1959.6ZM2262.6 267.3H2292.9V300.0H2262.6ZM293.0 300.0H383.9V332.6H293.0ZM1323.2 300.0H1383.8V332.6H1323.2ZM1959.6 300.0H1989.9V332.6H1959.6ZM2050.5 300.0H2111.1V332.6H2050.5ZM262.7 332.6H353.6V365.2H262.7ZM1202.0 332.6H1262.6V365.2H1202.0ZM1353.5 332.6H1444.5V365.2H1353.5ZM1959.6 332.6H1989.9V365.2H1959.6ZM2020.2 332.6H2080.8V365.2H2020.2ZM262.7 365.2H323.3V397.9H262.7ZM1171.7 365.2H1262.6V397.9H1171.7ZM1929.3 365.2H2050.5V397.9H1929.3ZM262.7 397.9H323.3V430.5H262.7ZM444.5 397.9H474.8V430.5H444.5ZM1171.7 397.9H1262.6V430.5H1171.7ZM1323.2 397.9H1353.5V430.5H1323.2ZM1929.3 397.9H2020.2V430.5H1929.3ZM262.7 430.5H414.2V463.1H262.7ZM444.5 430.5H474.8V463.1H444.5ZM1141.4 430.5H1171.7V463.1H1141.4ZM1202.0 430.5H1262.6V463.1H1202.0ZM1323.2 430.5H1353.5V463.1H1323.2ZM1899.0 430.5H2020.2V463.1H1899.0ZM262.7 463.1H293.0V495.8H262.7ZM929.3 463.1H959.6V495.8H929.3ZM1020.2 463.1H1171.7V495.8H1020.2ZM1202.0 463.1H1262.6V495.8H1202.0ZM1323.2 463.1H1414.2V495.8H1323.2ZM1899.0 463.1H1989.9V495.8H1899.0ZM262.7 495.8H293.0V528.4H262.7ZM414.2 495.8H444.5V528.4H414.2ZM1050.5 495.8H1080.8V528.4H1050.5ZM1171.7 495.8H1202.0V528.4H1171.7ZM1353.5 495.8H1444.5V528.4H1353.5ZM1868.7 495.8H1959.6V528.4H1868.7ZM293.0 528.4H323.3V561.0H293.0ZM868.7 528.4H929.3V561.0H868.7ZM1202.0 528.4H1232.3V561.0H1202.0ZM1353.5 528.4H1383.8V561.0H1353.5ZM1414.2 528.4H1474.8V561.0H1414.2ZM1535.4 528.4H1626.3V561.0H1535.4ZM1777.8 528.4H1868.7V561.0H1777.8ZM186.9 561.0H232.4V593.7H186.9ZM808.1 561.0H838.4V593.7H808.1ZM1202.0 561.0H1232.3V593.7H1202.0ZM1323.2 561.0H1474.8V593.7H1323.2ZM1505.1 561.0H1626.3V593.7H1505.1ZM1747.5 561.0H1838.4V593.7H1747.5ZM2020.2 561.0H2080.8V593.7H2020.2ZM186.9 593.7H202.1V626.3H186.9ZM383.9 593.7H444.5V626.3H383.9ZM808.1 593.7H838.4V626.3H808.1ZM1232.3 593.7H1262.6V626.3H1232.3ZM1323.2 593.7H1474.8V626.3H1323.2ZM1505.1 593.7H1596.0V626.3H1505.1ZM1626.3 593.7H1656.6V626.3H1626.3ZM1717.2 593.7H1777.8V626.3H1717.2ZM1989.9 593.7H2111.1V626.3H1989.9ZM186.9 626.3H202.1V658.9H186.9ZM293.0 626.3H323.3V658.9H293.0ZM686.9 626.3H747.5V658.9H686.9ZM777.8 626.3H808.1V658.9H777.8ZM959.6 626.3H1050.5V658.9H959.6ZM1232.3 626.3H1262.6V658.9H1232.3ZM1323.2 626.3H1353.5V658.9H1323.2ZM1414.2 626.3H1474.8V658.9H1414.2ZM1535.4 626.3H1565.7V658.9H1535.4ZM1626.3 626.3H1747.5V658.9H1626.3ZM1959.6 626.3H2050.5V658.9H1959.6ZM293.0 658.9H353.6V691.6H293.0ZM656.6 658.9H777.8V691.6H656.6ZM808.1 658.9H868.7V691.6H808.1ZM1202.0 658.9H1232.3V691.6H1202.0ZM1323.2 658.9H1353.5V691.6H1323.2ZM1414.2 658.9H1444.5V691.6H1414.2ZM1565.7 658.9H1656.6V691.6H1565.7ZM1717.2 658.9H1777.8V691.6H1717.2ZM1959.6 658.9H2020.2V691.6H1959.6ZM186.9 691.6H262.7V724.2H186.9ZM838.4 691.6H899.0V724.2H838.4ZM929.3 691.6H959.6V724.2H929.3ZM1111.1 691.6H1141.4V724.2H1111.1ZM1171.7 691.6H1202.0V724.2H1171.7ZM1323.2 691.6H1353.5V724.2H1323.2ZM1383.8 691.6H1444.5V724.2H1383.8ZM1596.0 691.6H1626.3V724.2H1596.0ZM1989.9 691.6H2020.2V724.2H1989.9ZM186.9 724.2H232.4V756.8H186.9ZM868.7 724.2H959.6V756.8H868.7ZM1353.5 724.2H1414.2V756.8H1353.5ZM1747.5 724.2H1777.8V756.8H1747.5ZM186.9 756.8H202.1V789.5H186.9ZM868.7 756.8H989.9V789.5H868.7ZM1020.2 756.8H1050.5V789.5H1020.2ZM1747.5 756.8H1777.8V789.5H1747.5ZM186.9 789.5H202.1V822.1H186.9ZM626.3 789.5H656.6V822.1H626.3ZM868.7 789.5H989.9V822.1H868.7ZM1020.2 789.5H1080.8V822.1H1020.2ZM1747.5 789.5H1777.8V822.1H1747.5ZM868.7 822.1H929.3V854.7H868.7ZM1777.8 822.1H1808.1V854.7H1777.8ZM838.4 854.7H959.6V887.4H838.4ZM2777.8 854.7H2853.5V887.4H2777.8ZM656.6 887.4H717.2V920.0H656.6ZM838.4 887.4H899.0V920.0H838.4ZM929.3 887.4H989.9V920.0H929.3ZM1777.8 887.4H1808.1V920.0H1777.8ZM2747.5 887.4H2853.5V920.0H2747.5ZM626.3 920.0H717.2V952.6H626.3ZM838.4 920.0H868.7V952.6H838.4ZM989.9 920.0H1020.2V952.6H989.9ZM2717.2 920.0H2838.4V952.6H2717.2ZM596.0 952.6H717.2V985.3H596.0ZM838.4 952.6H899.0V985.3H838.4ZM1808.1 952.6H1838.4V985.3H1808.1ZM2656.6 952.6H2777.8V985.3H2656.6ZM868.7 985.3H899.0V1017.9H868.7ZM989.9 985.3H1020.2V1017.9H989.9ZM1838.4 985.3H1868.7V1017.9H1838.4ZM2383.8 985.3H2414.1V1017.9H2383.8ZM2626.3 985.3H2717.2V1017.9H2626.3ZM232.4 1017.9H414.2V1050.5H232.4ZM444.5 1017.9H596.0V1050.5H444.5ZM868.7 1017.9H1020.2V1050.5H868.7ZM1899.0 1017.9H1959.6V1050.5H1899.0ZM2262.6 1017.9H2444.4V1050.5H2262.6ZM2565.6 1017.9H2656.6V1050.5H2565.6ZM186.9 1050.5H596.0V1083.2H186.9ZM899.0 1050.5H989.9V1083.2H899.0ZM1989.9 1050.5H2262.6V1083.2H1989.9ZM2383.8 1050.5H2565.6V1083.2H2383.8ZM186.9 1083.2H535.4V1115.8H186.9ZM2414.1 1083.2H2535.3V1115.8H2414.1ZM186.9 1115.8H202.1V1148.4H186.9ZM2686.9 1115.8H2808.1V1148.4H2686.9ZM808.1 1148.4H868.7V1181.1H808.1ZM2656.6 1148.4H2717.2V1181.1H2656.6ZM2747.5 1148.4H2808.1V1181.1H2747.5ZM2656.6 1181.1H2686.9V1213.7H2656.6ZM2808.1 1181.1H2838.4V1213.7H2808.1ZM323.3 1213.7H444.5V1246.3H323.3ZM474.8 1213.7H505.1V1246.3H474.8ZM2626.3 1213.7H2686.9V1246.3H2626.3ZM2808.1 1213.7H2838.4V1246.3H2808.1ZM293.0 1246.3H535.4V1279.0H293.0ZM2505.0 1246.3H2686.9V1279.0H2505.0ZM2777.8 1246.3H2838.4V1279.0H2777.8ZM202.1 1279.0H535.4V1311.6H202.1ZM656.6 1279.0H747.5V1311.6H656.6ZM2414.1 1279.0H2565.6V1311.6H2414.1ZM2747.5 1279.0H2838.4V1311.6H2747.5ZM186.9 1311.6H565.7V1344.2H186.9ZM626.3 1311.6H747.5V1344.2H626.3ZM1535.4 1311.6H1565.7V1344.2H1535.4ZM2353.5 1311.6H2505.0V1344.2H2353.5ZM2535.3 1311.6H2595.9V1344.2H2535.3ZM2717.2 1311.6H2838.4V1344.2H2717.2ZM186.9 1344.2H323.3V1376.9H186.9ZM474.8 1344.2H686.9V1376.9H474.8ZM2353.5 1344.2H2595.9V1376.9H2353.5ZM2747.5 1344.2H2853.5V1376.9H2747.5ZM186.9 1376.9H353.6V1409.5H186.9ZM596.0 1376.9H656.6V1409.5H596.0ZM2323.2 1376.9H2595.9V1409.5H2323.2ZM2777.8 1376.9H2853.5V1409.5H2777.8ZM186.9 1409.5H353.6V1442.1H186.9ZM596.0 1409.5H656.6V1442.1H596.0ZM2292.9 1409.5H2414.1V1442.1H2292.9ZM2474.7 1409.5H2595.9V1442.1H2474.7ZM2777.8 1409.5H2838.4V1442.1H2777.8ZM186.9 1442.1H686.9V1474.7H186.9ZM2232.3 1442.1H2383.8V1474.7H2232.3ZM2474.7 1442.1H2626.3V1474.7H2474.7ZM186.9 1474.7H686.9V1507.4H186.9ZM2171.7 1474.7H2353.5V1507.4H2171.7ZM2505.0 1474.7H2595.9V1507.4H2505.0ZM186.9 1507.4H686.9V1540.0H186.9ZM2141.4 1507.4H2202.0V1540.0H2141.4ZM2232.3 1507.4H2323.2V1540.0H2232.3ZM186.9 1540.0H686.9V1572.6H186.9ZM777.8 1540.0H838.4V1572.6H777.8ZM2111.1 1540.0H2171.7V1572.6H2111.1ZM186.9 1572.6H505.1V1605.3H186.9ZM565.7 1572.6H656.6V1605.3H565.7ZM747.5 1572.6H838.4V1605.3H747.5ZM2080.8 1572.6H2111.1V1605.3H2080.8ZM186.9 1605.3H232.4V1637.9H186.9ZM262.7 1605.3H505.1V1637.9H262.7ZM777.8 1605.3H808.1V1637.9H777.8ZM2050.5 1605.3H2080.8V1637.9H2050.5ZM186.9 1637.9H232.4V1670.5H186.9ZM293.0 1637.9H505.1V1670.5H293.0ZM2020.2 1637.9H2050.5V1670.5H2020.2ZM186.9 1670.5H293.0V1703.2H186.9ZM383.9 1670.5H505.1V1703.2H383.9ZM1989.9 1670.5H2020.2V1703.2H1989.9ZM186.9 1703.2H293.0V1735.8H186.9ZM383.9 1703.2H565.7V1735.8H383.9ZM1959.6 1703.2H1989.9V1735.8H1959.6ZM186.9 1735.8H232.4V1768.4H186.9ZM414.2 1735.8H626.3V1768.4H414.2ZM1929.3 1735.8H1959.6V1768.4H1929.3ZM2656.6 1735.8H2717.2V1768.4H2656.6ZM414.2 1768.4H656.6V1801.1H414.2ZM1050.5 1768.4H1111.1V1801.1H1050.5ZM1868.7 1768.4H1959.6V1801.1H1868.7ZM2626.3 1768.4H2717.2V1801.1H2626.3ZM414.2 1801.1H686.9V1833.7H414.2ZM1020.2 1801.1H1111.1V1833.7H1020.2ZM1838.4 1801.1H1899.0V1833.7H1838.4ZM2353.5 1801.1H2383.8V1833.7H2353.5ZM2656.6 1801.1H2717.2V1833.7H2656.6ZM444.5 1833.7H686.9V1866.3H444.5ZM959.6 1833.7H1111.1V1866.3H959.6ZM1808.1 1833.7H1868.7V1866.3H1808.1ZM474.8 1866.3H535.4V1899.0H474.8ZM565.7 1866.3H686.9V1899.0H565.7ZM959.6 1866.3H1080.8V1899.0H959.6ZM1777.8 1866.3H1838.4V1899.0H1777.8ZM2595.9 1866.3H2626.3V1899.0H2595.9ZM656.6 1899.0H717.2V1931.6H656.6ZM959.6 1899.0H1080.8V1931.6H959.6ZM1747.5 1899.0H1838.4V1931.6H1747.5ZM2595.9 1899.0H2656.6V1931.6H2595.9ZM656.6 1931.6H717.2V1964.2H656.6ZM929.3 1931.6H1050.5V1964.2H929.3ZM1747.5 1931.6H1808.1V1964.2H1747.5ZM2595.9 1931.6H2686.9V1964.2H2595.9ZM686.9 1964.2H747.5V1996.9H686.9ZM929.3 1964.2H1050.5V1996.9H929.3ZM1747.5 1964.2H1808.1V1996.9H1747.5ZM2626.3 1964.2H2656.6V1996.9H2626.3ZM686.9 1996.9H747.5V2029.5H686.9ZM929.3 1996.9H1050.5V2029.5H929.3ZM1656.6 1996.9H1838.4V2029.5H1656.6ZM717.2 2029.5H777.8V2062.1H717.2ZM929.3 2029.5H1080.8V2062.1H929.3ZM1171.7 2029.5H1202.0V2062.1H1171.7ZM1596.0 2029.5H1838.4V2062.1H1596.0ZM747.5 2062.1H808.1V2094.8H747.5ZM899.0 2062.1H1080.8V2094.8H899.0ZM1111.1 2062.1H1202.0V2094.8H1111.1ZM1444.5 2062.1H1474.8V2094.8H1444.5ZM1596.0 2062.1H1626.3V2094.8H1596.0ZM1686.9 2062.1H1868.7V2094.8H1686.9ZM747.5 2094.8H838.4V2127.4H747.5ZM899.0 2094.8H1202.0V2127.4H899.0ZM1323.2 2094.8H1505.1V2127.4H1323.2ZM1535.4 2094.8H1596.0V2127.4H1535.4ZM1747.5 2094.8H1868.7V2127.4H1747.5ZM2444.4 2094.8H2474.7V2127.4H2444.4ZM2535.3 2094.8H2565.6V2127.4H2535.3ZM777.8 2127.4H1202.0V2160.0H777.8ZM1323.2 2127.4H1596.0V2160.0H1323.2ZM2444.4 2127.4H2686.9V2160.0H2444.4ZM808.1 2160.0H1202.0V2192.7H808.1ZM1292.9 2160.0H1596.0V2192.7H1292.9ZM2444.4 2160.0H2686.9V2192.7H2444.4ZM808.1 2192.7H1202.0V2225.3H808.1ZM1292.9 2192.7H1596.0V2225.3H1292.9ZM2444.4 2192.7H2626.3V2225.3H2444.4ZM808.1 2225.3H959.6V2257.9H808.1ZM989.9 2225.3H1020.2V2257.9H989.9ZM1050.5 2225.3H1565.7V2257.9H1050.5ZM2565.6 2225.3H2595.9V2257.9H2565.6ZM808.1 2257.9H989.9V2290.6H808.1ZM1080.8 2257.9H1202.0V2290.6H1080.8ZM1262.6 2257.9H1565.7V2290.6H1262.6ZM808.1 2290.6H989.9V2323.2H808.1ZM1141.4 2290.6H1202.0V2323.2H1141.4ZM1292.9 2290.6H1596.0V2323.2H1292.9ZM838.4 2323.2H1020.2V2355.8H838.4ZM1141.4 2323.2H1202.0V2355.8H1141.4ZM1323.2 2323.2H1474.8V2355.8H1323.2ZM2111.1 2323.2H2202.0V2355.8H2111.1ZM838.4 2355.8H959.6V2388.5H838.4ZM1141.4 2355.8H1232.3V2388.5H1141.4ZM1353.5 2355.8H1474.8V2388.5H1353.5ZM2111.1 2355.8H2232.3V2388.5H2111.1ZM1141.4 2388.5H1262.6V2421.1H1141.4ZM1353.5 2388.5H1474.8V2421.1H1353.5ZM2111.1 2388.5H2262.6V2421.1H2111.1ZM1202.0 2421.1H1292.9V2453.7H1202.0ZM1353.5 2421.1H1474.8V2453.7H1353.5ZM2111.1 2421.1H2292.9V2453.7H2111.1ZM1232.3 2453.7H1292.9V2486.4H1232.3ZM1353.5 2453.7H1444.5V2486.4H1353.5ZM2141.4 2453.7H2323.2V2486.4H2141.4ZM1262.6 2486.4H1292.9V2519.0H1262.6ZM1353.5 2486.4H1414.2V2519.0H1353.5ZM2262.6 2486.4H2353.5V2519.0H2262.6ZM1262.6 2519.0H1292.9V2551.6H1262.6ZM1353.5 2519.0H1414.2V2551.6H1353.5ZM2292.9 2519.0H2353.5V2551.6H2292.9ZM1262.6 2551.6H1383.8V2584.3H1262.6ZM2323.2 2551.6H2383.8V2584.3H2323.2ZM1292.9 2584.3H1383.8V2616.9H1292.9ZM2353.5 2584.3H2383.8V2616.9H2353.5ZM1292.9 2616.9H1383.8V2649.5H1292.9ZM2383.8 2616.9H2414.1V2649.5H2383.8ZM1292.9 2649.5H1383.8V2682.2H1292.9ZM2414.1 2649.5H2444.4V2682.2H2414.1ZM1292.9 2682.2H1383.8V2714.8H1292.9ZM2414.1 2682.2H2444.4V2714.8H2414.1ZM1292.9 2714.8H1383.8V2747.4H1292.9ZM2444.4 2714.8H2474.7V2747.4H2444.4ZM1292.9 2747.4H1383.8V2780.0H1292.9ZM2444.4 2747.4H2474.7V2780.0H2444.4ZM1292.9 2780.0H1353.5V2812.7H1292.9ZM2444.4 2780.0H2535.3V2812.7H2444.4ZM1323.2 2812.7H1383.8V2845.3H1323.2ZM2414.1 2812.7H2474.7V2845.3H2414.1ZM2414.1 2845.3H2474.7V2877.9H2414.1ZM2414.1 2877.9H2474.7V2910.6H2414.1ZM2414.1 2910.6H2474.7V2943.2H2414.1ZM2383.8 2943.2H2535.3V2975.8H2383.8ZM2383.8 2975.8H2535.3V3008.5H2383.8ZM2383.8 3008.5H2535.3V3041.1H2383.8ZM2444.4 3041.1H2505.0V3073.7H2444.4Z"/><path fill="#ff6666" d="M717.2 120.5H808.1V136.8H717.2ZM1747.5 120.5H1899.0V136.8H1747.5ZM686.9 136.8H777.8V169.4H686.9ZM1747.5 136.8H1929.3V169.4H1747.5ZM686.9 169.4H747.5V202.1H686.9ZM1717.2 169.4H1929.3V202.1H1717.2ZM656.6 202.1H747.5V234.7H656.6ZM1292.9 202.1H1323.2V234.7H1292.9ZM1717.2 202.1H1929.3V234.7H1717.2ZM353.6 234.7H414.2V267.3H353.6ZM444.5 234.7H505.1V267.3H444.5ZM596.0 234.7H747.5V267.3H596.0ZM1232.3 234.7H1383.8V267.3H1232.3ZM1747.5 234.7H1929.3V267.3H1747.5ZM353.6 267.3H686.9V300.0H353.6ZM1202.0 267.3H1323.2V300.0H1202.0ZM1353.5 267.3H1414.2V300.0H1353.5ZM1777.8 267.3H1808.1V300.0H1777.8ZM1868.7 267.3H1959.6V300.0H1868.7ZM383.9 300.0H626.3V332.6H383.9ZM1171.7 300.0H1323.2V332.6H1171.7ZM1383.8 300.0H1444.5V332.6H1383.8ZM1868.7 300.0H1959.6V332.6H1868.7ZM353.6 332.6H596.0V365.2H353.6ZM1111.1 332.6H1202.0V365.2H1111.1ZM1262.6 332.6H1353.5V365.2H1262.6ZM1444.5 332.6H1474.8V365.2H1444.5ZM1838.4 332.6H1959.6V365.2H1838.4ZM323.3 365.2H565.7V397.9H323.3ZM686.9 365.2H747.5V397.9H686.9ZM1050.5 365.2H1171.7V397.9H1050.5ZM1262.6 365.2H1505.1V397.9H1262.6ZM1838.4 365.2H1929.3V397.9H1838.4ZM323.3 397.9H444.5V430.5H323.3ZM474.8 397.9H535.4V430.5H474.8ZM989.9 397.9H1171.7V430.5H989.9ZM1262.6 397.9H1323.2V430.5H1262.6ZM1353.5 397.9H1535.4V430.5H1353.5ZM1808.1 397.9H1929.3V430.5H1808.1ZM474.8 430.5H505.1V463.1H474.8ZM959.6 430.5H1141.4V463.1H959.6ZM1262.6 430.5H1323.2V463.1H1262.6ZM1353.5 430.5H1899.0V463.1H1353.5ZM474.8 463.1H505.1V495.8H474.8ZM1262.6 463.1H1323.2V495.8H1262.6ZM1414.2 463.1H1899.0V495.8H1414.2ZM444.5 495.8H505.1V528.4H444.5ZM838.4 495.8H899.0V528.4H838.4ZM1202.0 495.8H1353.5V528.4H1202.0ZM1444.5 495.8H1868.7V528.4H1444.5ZM444.5 528.4H474.8V561.0H444.5ZM777.8 528.4H868.7V561.0H777.8ZM1232.3 528.4H1353.5V561.0H1232.3ZM1474.8 528.4H1535.4V561.0H1474.8ZM1626.3 528.4H1777.8V561.0H1626.3ZM444.5 561.0H474.8V593.7H444.5ZM777.8 561.0H808.1V593.7H777.8ZM1232.3 561.0H1323.2V593.7H1232.3ZM1474.8 561.0H1505.1V593.7H1474.8ZM1626.3 561.0H1747.5V593.7H1626.3ZM444.5 593.7H474.8V626.3H444.5ZM686.9 593.7H808.1V626.3H686.9ZM1262.6 593.7H1323.2V626.3H1262.6ZM1474.8 593.7H1505.1V626.3H1474.8ZM1656.6 593.7H1717.2V626.3H1656.6ZM323.3 626.3H474.8V658.9H323.3ZM626.3 626.3H686.9V658.9H626.3ZM747.5 626.3H777.8V658.9H747.5ZM1262.6 626.3H1323.2V658.9H1262.6ZM1474.8 626.3H1535.4V658.9H1474.8ZM353.6 658.9H656.6V691.6H353.6ZM777.8 658.9H808.1V691.6H777.8ZM959.6 658.9H1080.8V691.6H959.6ZM1232.3 658.9H1323.2V691.6H1232.3ZM1444.5 658.9H1565.7V691.6H1444.5ZM1656.6 658.9H1717.2V691.6H1656.6ZM262.7 691.6H838.4V724.2H262.7ZM959.6 691.6H1111.1V724.2H959.6ZM1202.0 691.6H1323.2V724.2H1202.0ZM1444.5 691.6H1596.0V724.2H1444.5ZM1626.3 691.6H1747.5V724.2H1626.3ZM232.4 724.2H868.7V756.8H232.4ZM959.6 724.2H1353.5V756.8H959.6ZM1414.2 724.2H1747.5V756.8H1414.2ZM202.1 756.8H868.7V789.5H202.1ZM989.9 756.8H1020.2V789.5H989.9ZM1050.5 756.8H1656.6V789.5H1050.5ZM1686.9 756.8H1747.5V789.5H1686.9ZM202.1 789.5H626.3V822.1H202.1ZM656.6 789.5H868.7V822.1H656.6ZM1080.8 789.5H1474.8V822.1H1080.8ZM1535.4 789.5H1656.6V822.1H1535.4ZM1717.2 789.5H1747.5V822.1H1717.2ZM186.9 822.1H868.7V854.7H186.9ZM929.3 822.1H1444.5V854.7H929.3ZM1717.2 822.1H1777.8V854.7H1717.2ZM186.9 854.7H838.4V887.4H186.9ZM959.6 854.7H1414.2V887.4H959.6ZM1717.2 854.7H1777.8V887.4H1717.2ZM186.9 887.4H262.7V920.0H186.9ZM293.0 887.4H656.6V920.0H293.0ZM717.2 887.4H838.4V920.0H717.2ZM989.9 887.4H1353.5V920.0H989.9ZM1383.8 887.4H1414.2V920.0H1383.8ZM1747.5 887.4H1777.8V920.0H1747.5ZM186.9 920.0H232.4V952.6H186.9ZM293.0 920.0H626.3V952.6H293.0ZM717.2 920.0H838.4V952.6H717.2ZM1020.2 920.0H1353.5V952.6H1020.2ZM1747.5 920.0H1808.1V952.6H1747.5ZM2838.4 920.0H2853.5V952.6H2838.4ZM186.9 952.6H596.0V985.3H186.9ZM717.2 952.6H838.4V985.3H717.2ZM1020.2 952.6H1323.2V985.3H1020.2ZM1747.5 952.6H1808.1V985.3H1747.5ZM2777.8 952.6H2853.5V985.3H2777.8ZM186.9 985.3H868.7V1017.9H186.9ZM1020.2 985.3H1202.0V1017.9H1020.2ZM1383.8 985.3H1474.8V1017.9H1383.8ZM1777.8 985.3H1838.4V1017.9H1777.8ZM2717.2 985.3H2853.5V1017.9H2717.2ZM186.9 1017.9H232.4V1050.5H186.9ZM414.2 1017.9H444.5V1050.5H414.2ZM596.0 1017.9H868.7V1050.5H596.0ZM1020.2 1017.9H1141.4V1050.5H1020.2ZM1353.5 1017.9H1474.8V1050.5H1353.5ZM1656.6 1017.9H1717.2V1050.5H1656.6ZM1777.8 1017.9H1899.0V1050.5H1777.8ZM2656.6 1017.9H2853.5V1050.5H2656.6ZM596.0 1050.5H899.0V1083.2H596.0ZM989.9 1050.5H1111.1V1083.2H989.9ZM1383.8 1050.5H1444.5V1083.2H1383.8ZM1596.0 1050.5H1747.5V1083.2H1596.0ZM1838.4 1050.5H1989.9V1083.2H1838.4ZM2262.6 1050.5H2383.8V1083.2H2262.6ZM2565.6 1050.5H2853.5V1083.2H2565.6ZM535.4 1083.2H1141.4V1115.8H535.4ZM1232.3 1083.2H1262.6V1115.8H1232.3ZM1292.9 1083.2H1323.2V1115.8H1292.9ZM1565.7 1083.2H1747.5V1115.8H1565.7ZM1959.6 1083.2H2414.1V1115.8H1959.6ZM2535.3 1083.2H2853.5V1115.8H2535.3ZM202.1 1115.8H1202.0V1148.4H202.1ZM1262.6 1115.8H1292.9V1148.4H1262.6ZM1535.4 1115.8H1717.2V1148.4H1535.4ZM1989.9 1115.8H2686.9V1148.4H1989.9ZM2808.1 1115.8H2853.5V1148.4H2808.1ZM186.9 1148.4H808.1V1181.1H186.9ZM868.7 1148.4H1050.5V1181.1H868.7ZM1111.1 1148.4H1292.9V1181.1H1111.1ZM1535.4 1148.4H1717.2V1181.1H1535.4ZM1989.9 1148.4H2292.9V1181.1H1989.9ZM2323.2 1148.4H2656.6V1181.1H2323.2ZM2808.1 1148.4H2853.5V1181.1H2808.1ZM186.9 1181.1H1050.5V1213.7H186.9ZM1080.8 1181.1H1292.9V1213.7H1080.8ZM1505.1 1181.1H1717.2V1213.7H1505.1ZM1989.9 1181.1H2656.6V1213.7H1989.9ZM2838.4 1181.1H2853.5V1213.7H2838.4ZM186.9 1213.7H323.3V1246.3H186.9ZM444.5 1213.7H474.8V1246.3H444.5ZM505.1 1213.7H1292.9V1246.3H505.1ZM1474.8 1213.7H1747.5V1246.3H1474.8ZM1868.7 1213.7H1899.0V1246.3H1868.7ZM1959.6 1213.7H2626.3V1246.3H1959.6ZM2838.4 1213.7H2853.5V1246.3H2838.4ZM186.9 1246.3H293.0V1279.0H186.9ZM535.4 1246.3H1323.2V1279.0H535.4ZM1444.5 1246.3H1777.8V1279.0H1444.5ZM1838.4 1246.3H2505.0V1279.0H1838.4ZM2838.4 1246.3H2853.5V1279.0H2838.4ZM186.9 1279.0H202.1V1311.6H186.9ZM535.4 1279.0H656.6V1311.6H535.4ZM747.5 1279.0H1353.5V1311.6H747.5ZM1414.2 1279.0H1808.1V1311.6H1414.2ZM1868.7 1279.0H2414.1V1311.6H1868.7ZM2838.4 1279.0H2853.5V1311.6H2838.4ZM565.7 1311.6H626.3V1344.2H565.7ZM747.5 1311.6H1535.4V1344.2H747.5ZM1565.7 1311.6H2353.5V1344.2H1565.7ZM2838.4 1311.6H2853.5V1344.2H2838.4ZM323.3 1344.2H474.8V1376.9H323.3ZM686.9 1344.2H2353.5V1376.9H686.9ZM353.6 1376.9H596.0V1409.5H353.6ZM656.6 1376.9H2323.2V1409.5H656.6ZM353.6 1409.5H596.0V1442.1H353.6ZM656.6 1409.5H2292.9V1442.1H656.6ZM686.9 1442.1H2232.3V1474.7H686.9ZM686.9 1474.7H2171.7V1507.4H686.9ZM686.9 1507.4H1959.6V1540.0H686.9ZM1989.9 1507.4H2141.4V1540.0H1989.9ZM686.9 1540.0H777.8V1572.6H686.9ZM838.4 1540.0H2111.1V1572.6H838.4ZM505.1 1572.6H565.7V1605.3H505.1ZM656.6 1572.6H747.5V1605.3H656.6ZM838.4 1572.6H2080.8V1605.3H838.4ZM505.1 1605.3H777.8V1637.9H505.1ZM808.1 1605.3H2050.5V1637.9H808.1ZM505.1 1637.9H2020.2V1670.5H505.1ZM505.1 1670.5H1989.9V1703.2H505.1ZM565.7 1703.2H1959.6V1735.8H565.7ZM626.3 1735.8H1929.3V1768.4H626.3ZM656.6 1768.4H1050.5V1801.1H656.6ZM1111.1 1768.4H1868.7V1801.1H1111.1ZM686.9 1801.1H1020.2V1833.7H686.9ZM1111.1 1801.1H1838.4V1833.7H1111.1ZM686.9 1833.7H959.6V1866.3H686.9ZM1111.1 1833.7H1808.1V1866.3H1111.1ZM686.9 1866.3H959.6V1899.0H686.9ZM1080.8 1866.3H1777.8V1899.0H1080.8ZM717.2 1899.0H959.6V1931.6H717.2ZM1080.8 1899.0H1747.5V1931.6H1080.8ZM717.2 1931.6H929.3V1964.2H717.2ZM1050.5 1931.6H1747.5V1964.2H1050.5ZM747.5 1964.2H929.3V1996.9H747.5ZM1050.5 1964.2H1747.5V1996.9H1050.5ZM747.5 1996.9H929.3V2029.5H747.5ZM1050.5 1996.9H1656.6V2029.5H1050.5ZM2565.6 1996.9H2595.9V2029.5H2565.6ZM2626.3 1996.9H2717.2V2029.5H2626.3ZM777.8 2029.5H929.3V2062.1H777.8ZM1080.8 2029.5H1171.7V2062.1H1080.8ZM1202.0 2029.5H1596.0V2062.1H1202.0ZM2505.0 2029.5H2747.5V2062.1H2505.0ZM808.1 2062.1H899.0V2094.8H808.1ZM1080.8 2062.1H1111.1V2094.8H1080.8ZM1202.0 2062.1H1444.5V2094.8H1202.0ZM1474.8 2062.1H1596.0V2094.8H1474.8ZM2474.7 2062.1H2717.2V2094.8H2474.7ZM838.4 2094.8H899.0V2127.4H838.4ZM1202.0 2094.8H1323.2V2127.4H1202.0ZM1505.1 2094.8H1535.4V2127.4H1505.1ZM2474.7 2094.8H2535.3V2127.4H2474.7ZM2565.6 2094.8H2686.9V2127.4H2565.6ZM1202.0 2127.4H1323.2V2160.0H1202.0ZM1202.0 2160.0H1292.9V2192.7H1202.0ZM1202.0 2192.7H1292.9V2225.3H1202.0ZM1202.0 2257.9H1262.6V2290.6H1202.0ZM1202.0 2290.6H1292.9V2323.2H1202.0ZM1202.0 2323.2H1323.2V2355.8H1202.0ZM1232.3 2355.8H1353.5V2388.5H1232.3ZM1262.6 2388.5H1353.5V2421.1H1262.6ZM1292.9 2421.1H1353.5V2453.7H1292.9ZM1292.9 2453.7H1353.5V2486.4H1292.9ZM1292.9 2486.4H1353.5V2519.0H1292.9ZM2353.5 2486.4H2383.8V2519.0H2353.5ZM1292.9 2519.0H1353.5V2551.6H1292.9ZM2353.5 2519.0H2414.1V2551.6H2353.5ZM2383.8 2551.6H2414.1V2584.3H2383.8ZM2383.8 2584.3H2444.4V2616.9H2383.8ZM2414.1 2616.9H2474.7V2649.5H2414.1ZM2444.4 2649.5H2474.7V2682.2H2444.4ZM2444.4 2682.2H2505.0V2714.8H2444.4ZM2474.7 2714.8H2505.0V2747.4H2474.7ZM2474.7 2747.4H2505.0V2780.0H2474.7ZM2474.7 2812.7H2535.3V2845.3H2474.7ZM2474.7 2845.3H2535.3V2877.9H2474.7ZM2474.7 2877.9H2535.3V2910.6H2474.7ZM2474.7 2910.6H2535.3V2943.2H2474.7Z"/><path fill="#ff0000" d="M808.1 120.5H929.3V136.8H808.1ZM1232.3 120.5H1262.6V136.8H1232.3ZM1505.1 120.5H1747.5V136.8H1505.1ZM777.8 136.8H899.0V169.4H777.8ZM1262.6 136.8H1323.2V169.4H1262.6ZM1535.4 136.8H1747.5V169.4H1535.4ZM747.5 169.4H777.8V202.1H747.5ZM1232.3 169.4H1414.2V202.1H1232.3ZM1565.7 169.4H1717.2V202.1H1565.7ZM747.5 202.1H808.1V234.7H747.5ZM1171.7 202.1H1292.9V234.7H1171.7ZM1323.2 202.1H1414.2V234.7H1323.2ZM1626.3 202.1H1717.2V234.7H1626.3ZM747.5 234.7H838.4V267.3H747.5ZM868.7 234.7H959.6V267.3H868.7ZM1050.5 234.7H1080.8V267.3H1050.5ZM1141.4 234.7H1232.3V267.3H1141.4ZM1383.8 234.7H1474.8V267.3H1383.8ZM1656.6 234.7H1747.5V267.3H1656.6ZM686.9 267.3H989.9V300.0H686.9ZM1020.2 267.3H1202.0V300.0H1020.2ZM1414.2 267.3H1535.4V300.0H1414.2ZM1686.9 267.3H1777.8V300.0H1686.9ZM1808.1 267.3H1868.7V300.0H1808.1ZM626.3 300.0H1171.7V332.6H626.3ZM1444.5 300.0H1535.4V332.6H1444.5ZM1656.6 300.0H1868.7V332.6H1656.6ZM596.0 332.6H838.4V365.2H596.0ZM868.7 332.6H1111.1V365.2H868.7ZM1474.8 332.6H1838.4V365.2H1474.8ZM565.7 365.2H686.9V397.9H565.7ZM747.5 365.2H808.1V397.9H747.5ZM929.3 365.2H1050.5V397.9H929.3ZM1505.1 365.2H1838.4V397.9H1505.1ZM535.4 397.9H808.1V430.5H535.4ZM929.3 397.9H989.9V430.5H929.3ZM1535.4 397.9H1808.1V430.5H1535.4ZM505.1 430.5H596.0V463.1H505.1ZM656.6 430.5H808.1V463.1H656.6ZM899.0 430.5H959.6V463.1H899.0ZM505.1 463.1H565.7V495.8H505.1ZM717.2 463.1H929.3V495.8H717.2ZM505.1 495.8H565.7V528.4H505.1ZM717.2 495.8H838.4V528.4H717.2ZM474.8 528.4H535.4V561.0H474.8ZM717.2 528.4H777.8V561.0H717.2ZM474.8 561.0H535.4V593.7H474.8ZM626.3 561.0H777.8V593.7H626.3ZM474.8 593.7H686.9V626.3H474.8ZM474.8 626.3H626.3V658.9H474.8ZM1656.6 756.8H1686.9V789.5H1656.6ZM1474.8 789.5H1535.4V822.1H1474.8ZM1656.6 789.5H1717.2V822.1H1656.6ZM1444.5 822.1H1717.2V854.7H1444.5ZM1414.2 854.7H1717.2V887.4H1414.2ZM262.7 887.4H293.0V920.0H262.7ZM1353.5 887.4H1383.8V920.0H1353.5ZM1414.2 887.4H1747.5V920.0H1414.2ZM232.4 920.0H293.0V952.6H232.4ZM1353.5 920.0H1747.5V952.6H1353.5ZM1323.2 952.6H1747.5V985.3H1323.2ZM1202.0 985.3H1383.8V1017.9H1202.0ZM1474.8 985.3H1777.8V1017.9H1474.8ZM1141.4 1017.9H1353.5V1050.5H1141.4ZM1474.8 1017.9H1656.6V1050.5H1474.8ZM1717.2 1017.9H1777.8V1050.5H1717.2ZM1111.1 1050.5H1383.8V1083.2H1111.1ZM1444.5 1050.5H1596.0V1083.2H1444.5ZM1747.5 1050.5H1838.4V1083.2H1747.5ZM1141.4 1083.2H1232.3V1115.8H1141.4ZM1262.6 1083.2H1292.9V1115.8H1262.6ZM1323.2 1083.2H1565.7V1115.8H1323.2ZM1747.5 1083.2H1959.6V1115.8H1747.5ZM1202.0 1115.8H1262.6V1148.4H1202.0ZM1292.9 1115.8H1535.4V1148.4H1292.9ZM1717.2 1115.8H1989.9V1148.4H1717.2ZM1050.5 1148.4H1111.1V1181.1H1050.5ZM1292.9 1148.4H1535.4V1181.1H1292.9ZM1717.2 1148.4H1989.9V1181.1H1717.2ZM2292.9 1148.4H2323.2V1181.1H2292.9ZM1050.5 1181.1H1080.8V1213.7H1050.5ZM1292.9 1181.1H1505.1V1213.7H1292.9ZM1717.2 1181.1H1989.9V1213.7H1717.2ZM1292.9 1213.7H1474.8V1246.3H1292.9ZM1747.5 1213.7H1868.7V1246.3H1747.5ZM1899.0 1213.7H1959.6V1246.3H1899.0ZM1323.2 1246.3H1444.5V1279.0H1323.2ZM1777.8 1246.3H1838.4V1279.0H1777.8ZM1353.5 1279.0H1414.2V1311.6H1353.5ZM1808.1 1279.0H1868.7V1311.6H1808.1ZM1959.6 1507.4H1989.9V1540.0H1959.6Z"/><path fill="#ff00ff" d="M929.3 120.5H1232.3V136.8H929.3ZM1262.6 120.5H1505.1V136.8H1262.6ZM899.0 136.8H1262.6V169.4H899.0ZM1323.2 136.8H1535.4V169.4H1323.2ZM777.8 169.4H1232.3V202.1H777.8ZM1414.2 169.4H1565.7V202.1H1414.2ZM808.1 202.1H1171.7V234.7H808.1ZM1414.2 202.1H1626.3V234.7H1414.2ZM838.4 234.7H868.7V267.3H838.4ZM959.6 234.7H1050.5V267.3H959.6ZM1080.8 234.7H1141.4V267.3H1080.8ZM1474.8 234.7H1656.6V267.3H1474.8ZM989.9 267.3H1020.2V300.0H989.9ZM1535.4 267.3H1686.9V300.0H1535.4ZM1535.4 300.0H1656.6V332.6H1535.4ZM838.4 332.6H868.7V365.2H838.4ZM808.1 365.2H929.3V397.9H808.1ZM808.1 397.9H929.3V430.5H808.1ZM596.0 430.5H656.6V463.1H596.0ZM808.1 430.5H899.0V463.1H808.1ZM565.7 463.1H717.2V495.8H565.7ZM565.7 495.8H717.2V528.4H565.7ZM535.4 528.4H717.2V561.0H535.4ZM535.4 561.0H626.3V593.7H535.4Z"/><path fill="#99ffff" d="M2686.9 120.5H2853.5V136.8H2686.9ZM2717.2 136.8H2853.5V169.4H2717.2ZM2323.2 169.4H2414.1V202.1H2323.2ZM2717.2 169.4H2838.4V202.1H2717.2ZM2383.8 202.1H2474.7V234.7H2383.8ZM2444.4 234.7H2505.0V267.3H2444.4ZM2444.4 267.3H2505.0V300.0H2444.4ZM2444.4 300.0H2656.6V332.6H2444.4ZM2474.7 332.6H2717.2V365.2H2474.7ZM2444.4 365.2H2686.9V397.9H2444.4ZM2595.9 397.9H2626.3V430.5H2595.9ZM2383.8 430.5H2414.1V463.1H2383.8ZM2323.2 463.1H2444.4V495.8H2323.2ZM959.6 495.8H1020.2V528.4H959.6ZM2262.6 495.8H2565.6V528.4H2262.6ZM1141.4 528.4H1171.7V561.0H1141.4ZM2262.6 528.4H2565.6V561.0H2262.6ZM989.9 561.0H1050.5V593.7H989.9ZM1141.4 561.0H1171.7V593.7H1141.4ZM2292.9 561.0H2565.6V593.7H2292.9ZM1050.5 593.7H1171.7V626.3H1050.5ZM2292.9 593.7H2565.6V626.3H2292.9ZM232.4 626.3H262.7V658.9H232.4ZM1080.8 626.3H1111.1V658.9H1080.8ZM232.4 658.9H262.7V691.6H232.4ZM1111.1 658.9H1171.7V691.6H1111.1ZM1838.4 724.2H1868.7V756.8H1838.4ZM1838.4 756.8H1899.0V789.5H1838.4ZM2232.3 756.8H2262.6V789.5H2232.3ZM1838.4 789.5H1929.3V822.1H1838.4ZM1868.7 822.1H1959.6V854.7H1868.7ZM2292.9 822.1H2444.4V854.7H2292.9ZM1868.7 854.7H1959.6V887.4H1868.7ZM2202.0 854.7H2444.4V887.4H2202.0ZM1868.7 887.4H1989.9V920.0H1868.7ZM2171.7 887.4H2414.1V920.0H2171.7ZM1899.0 920.0H2020.2V952.6H1899.0ZM2141.4 920.0H2353.5V952.6H2141.4ZM1899.0 952.6H1989.9V985.3H1899.0ZM2141.4 952.6H2292.9V985.3H2141.4ZM1989.9 1833.7H2111.1V1866.3H1989.9ZM1989.9 1866.3H2202.0V1899.0H1989.9ZM1989.9 1899.0H2202.0V1931.6H1989.9ZM1989.9 1931.6H2171.7V1964.2H1989.9ZM2020.2 1964.2H2141.4V1996.9H2020.2ZM2020.2 1996.9H2141.4V2029.5H2020.2ZM2020.2 2029.5H2111.1V2062.1H2020.2ZM1989.9 2062.1H2111.1V2094.8H1989.9ZM1989.9 2094.8H2080.8V2127.4H1989.9ZM2020.2 2127.4H2080.8V2160.0H2020.2ZM1929.3 2257.9H1959.6V2290.6H1929.3ZM1747.5 2290.6H1899.0V2323.2H1747.5ZM1929.3 2290.6H1989.9V2323.2H1929.3ZM1717.2 2323.2H1868.7V2355.8H1717.2ZM1929.3 2323.2H1959.6V2355.8H1929.3ZM1717.2 2355.8H1929.3V2388.5H1717.2ZM1656.6 2388.5H1929.3V2421.1H1656.6ZM1656.6 2421.1H1989.9V2453.7H1656.6ZM1626.3 2453.7H1747.5V2486.4H1626.3ZM1929.3 2453.7H2020.2V2486.4H1929.3ZM1596.0 2486.4H1717.2V2519.0H1596.0ZM1989.9 2486.4H2050.5V2519.0H1989.9ZM1596.0 2519.0H1686.9V2551.6H1596.0ZM2020.2 2519.0H2141.4V2551.6H2020.2ZM1596.0 2551.6H1656.6V2584.3H1596.0ZM2080.8 2551.6H2141.4V2584.3H2080.8ZM2232.3 2551.6H2262.6V2584.3H2232.3ZM1596.0 2584.3H1656.6V2616.9H1596.0ZM2141.4 2584.3H2262.6V2616.9H2141.4ZM1141.4 2616.9H1202.0V2649.5H1141.4ZM1626.3 2616.9H1656.6V2649.5H1626.3ZM2171.7 2616.9H2232.3V2649.5H2171.7ZM2262.6 2616.9H2292.9V2649.5H2262.6ZM1171.7 2649.5H1202.0V2682.2H1171.7ZM1626.3 2649.5H1686.9V2682.2H1626.3ZM2292.9 2649.5H2323.2V2682.2H2292.9ZM1171.7 2682.2H1202.0V2714.8H1171.7ZM1656.6 2682.2H1717.2V2714.8H1656.6ZM2323.2 2682.2H2353.5V2714.8H2323.2ZM1171.7 2714.8H1202.0V2747.4H1171.7ZM1656.6 2714.8H1717.2V2747.4H1656.6ZM2323.2 2714.8H2383.8V2747.4H2323.2ZM1171.7 2747.4H1202.0V2780.0H1171.7ZM1596.0 2747.4H1747.5V2780.0H1596.0ZM2353.5 2747.4H2383.8V2780.0H2353.5ZM1656.6 2780.0H1747.5V2812.7H1656.6ZM2353.5 2780.0H2383.8V2812.7H2353.5ZM1717.2 2812.7H1777.8V2845.3H1717.2ZM2353.5 2812.7H2383.8V2845.3H2353.5ZM1747.5 2845.3H1808.1V2877.9H1747.5ZM2292.9 2845.3H2353.5V2877.9H2292.9ZM1808.1 2877.9H1838.4V2910.6H1808.1ZM1899.0 2877.9H1929.3V2910.6H1899.0ZM2202.0 2877.9H2323.2V2910.6H2202.0ZM1838.4 2910.6H1899.0V2943.2H1838.4ZM1929.3 2910.6H2020.2V2943.2H1929.3ZM2171.7 2910.6H2232.3V2943.2H2171.7ZM1262.6 2943.2H1292.9V2975.8H1262.6ZM1929.3 2943.2H2171.7V2975.8H1929.3ZM1262.6 2975.8H1292.9V3008.5H1262.6ZM1262.6 3008.5H1323.2V3041.1H1262.6ZM1292.9 3041.1H1323.2V3073.7H1292.9ZM1262.6 3073.7H1323.2V3106.4H1262.6ZM1777.8 3073.7H1838.4V3106.4H1777.8ZM1292.9 3106.4H1323.2V3139.0H1292.9ZM1777.8 3106.4H1868.7V3139.0H1777.8ZM1777.8 3139.0H1838.4V3171.6H1777.8Z"/><path fill="#0099ff" d="M959.6 528.4H1020.2V561.0H959.6ZM1111.1 626.3H1171.7V658.9H1111.1ZM1747.5 2453.7H1929.3V2486.4H1747.5ZM1717.2 2486.4H1989.9V2519.0H1717.2ZM1686.9 2519.0H2020.2V2551.6H1686.9ZM1656.6 2551.6H2080.8V2584.3H1656.6ZM1656.6 2584.3H2141.4V2616.9H1656.6ZM1656.6 2616.9H2171.7V2649.5H1656.6ZM2232.3 2616.9H2262.6V2649.5H2232.3ZM1686.9 2649.5H2111.1V2682.2H1686.9ZM2141.4 2649.5H2292.9V2682.2H2141.4ZM1717.2 2682.2H2080.8V2714.8H1717.2ZM2232.3 2682.2H2323.2V2714.8H2232.3ZM1717.2 2714.8H2080.8V2747.4H1717.2ZM2232.3 2714.8H2323.2V2747.4H2232.3ZM1747.5 2747.4H2080.8V2780.0H1747.5ZM2202.0 2747.4H2353.5V2780.0H2202.0ZM1747.5 2780.0H2080.8V2812.7H1747.5ZM2111.1 2780.0H2171.7V2812.7H2111.1ZM2202.0 2780.0H2353.5V2812.7H2202.0ZM1777.8 2812.7H2353.5V2845.3H1777.8ZM1808.1 2845.3H2292.9V2877.9H1808.1ZM1838.4 2877.9H1899.0V2910.6H1838.4ZM1929.3 2877.9H2202.0V2910.6H1929.3ZM2020.2 2910.6H2171.7V2943.2H2020.2Z"/><path fill="#0000ff" d="M2111.1 2649.5H2141.4V2682.2H2111.1ZM2080.8 2682.2H2232.3V2714.8H2080.8ZM2080.8 2714.8H2232.3V2747.4H2080.8ZM2080.8 2747.4H2202.0V2780.0H2080.8ZM2080.8 2780.0H2111.1V2812.7H2080.8ZM2171.7 2780.0H2202.0V2812.7H2171.7Z"/></g>
<g stroke="#808080" stroke-opacity="0.45" stroke-width="3" stroke-dasharray="11 5.5" fill="none"><line x1="550.5" y1="120.5" x2="550.5" y2="3579.5"/><line x1="914.2" y1="120.5" x2="914.2" y2="3579.5"/><line x1="1277.8" y1="120.5" x2="1277.8" y2="3579.5"/><line x1="1641.4" y1="120.5" x2="1641.4" y2="3579.5"/><line x1="2005.0" y1="120.5" x2="2005.0" y2="3579.5"/><line x1="2368.7" y1="120.5" x2="2368.7" y2="3579.5"/><line x1="2732.3" y1="120.5" x2="2732.3" y2="3579.5"/><line x1="186.9" y1="3318.5" x2="2853.5" y2="3318.5"/><line x1="186.9" y1="2665.8" x2="2853.5" y2="2665.8"/><line x1="186.9" y1="2013.2" x2="2853.5" y2="2013.2"/><line x1="186.9" y1="1360.5" x2="2853.5" y2="1360.5"/><line x1="186.9" y1="707.9" x2="2853.5" y2="707.9"/></g>
<g fill="none" stroke="#000" stroke-width="2.2" stroke-linejoin="round" stroke-linecap="round"><polyline points="186.0,947.5 206.0,944.0 231.0,959.0 261.0,957.5 286.0,962.5 311.0,971.0 331.0,959.0 346.0,960.0 366.0,971.0 388.5,975.0 385.0,995.0 378.5,1015.0 383.5,1030.0 401.0,1040.0 428.5,1037.5 441.0,1062.5 432.0,1085.0 442.0,1105.0 443.5,1116.0"/><polyline points="186.0,1132.5 206.0,1119.0 233.5,1112.5 266.0,1127.5 336.0,1125.0 356.0,1117.5 371.0,1125.0 396.0,1125.0 408.5,1119.0 443.5,1116.0 496.0,1107.5 536.0,1111.5 566.0,1112.5 611.0,1107.5 636.0,1099.0 651.0,1092.5 653.5,1072.5 673.5,1052.5 698.5,1030.0 736.0,1017.5 786.0,997.5 828.5,975.0 838.5,952.5 866.0,937.5 893.5,931.0 913.5,942.5 941.0,940.0 966.0,952.5 991.0,970.0 1016.0,980.0 1041.0,990.0 1054.0,1000.0"/><polyline points="1046.0,1002.5 1026.0,1020.0 1022.0,1035.0 1031.0,1060.0 1051.0,1085.0 1054.0,1086.0"/><polyline points="1054.0,1085.0 1031.0,1080.0 1018.5,1067.5 1016.0,1057.5 991.0,1052.5 966.0,1057.5 936.0,1062.5 916.0,1070.0 906.0,1087.5 888.5,1097.5 871.0,1110.0 851.0,1125.0 826.0,1140.0 811.0,1145.0 801.0,1165.0 801.0,1195.0 811.0,1220.0 801.0,1235.0 791.0,1260.0 766.0,1292.5 748.5,1305.0 741.0,1330.0 758.5,1345.0 758.5,1365.0 741.0,1400.0 726.0,1420.0 706.0,1460.0 691.0,1500.0 686.0,1517.0"/><polyline points="186.0,1325.0 236.0,1340.0 286.0,1339.0 336.0,1334.0 366.0,1341.0 431.0,1335.0 461.0,1345.0 476.0,1357.5 486.0,1367.5 483.5,1375.0 473.5,1377.5 460.0,1374.0 458.5,1390.0 451.0,1410.0 446.0,1425.0 442.0,1440.0 423.5,1447.5 418.5,1455.0 416.0,1470.0 386.0,1475.0 356.0,1477.5 341.0,1495.0 336.0,1517.0"/><polyline points="591.0,1517.0 591.0,1490.0 596.0,1480.0 606.0,1490.0 626.0,1485.0 641.0,1490.0 656.0,1497.5 681.0,1505.0 686.0,1517.0"/><polyline points="1000.0,975.0 1020.0,980.0 1042.5,995.0 1075.0,977.5 1077.5,955.0 1072.5,930.0 1080.0,920.0 1092.5,905.0 1102.5,897.5 1120.0,900.0 1130.0,917.5 1145.0,920.0 1160.0,940.0 1172.5,950.0 1175.0,975.0 1182.5,995.0 1192.5,1020.0 1200.0,1030.0 1210.0,1015.0 1235.0,1020.0 1242.5,1030.0 1245.0,1060.0 1247.5,1090.0 1250.0,1130.0 1245.0,1180.0 1240.0,1200.0 1230.0,1215.0 1242.5,1245.0 1230.0,1255.0 1215.0,1270.0 1200.0,1285.0 1180.0,1280.0 1170.0,1305.0 1150.0,1320.0 1135.0,1337.0"/><polyline points="1042.5,995.0 1020.0,1015.0 1020.0,1030.0 1040.0,1065.0 1052.5,1085.0"/><polyline points="1130.0,1337.0 1122.5,1357.0 1125.0,1377.0 1105.0,1387.0 1102.5,1407.0 1102.5,1432.0 1120.0,1442.0 1125.0,1457.0 1122.5,1477.0 1100.0,1497.0 1115.0,1507.0 1145.0,1487.0 1180.0,1477.0 1220.0,1473.0 1265.0,1472.0 1240.0,1492.0 1240.0,1512.0 1255.0,1532.0 1260.0,1557.0 1265.0,1577.0 1265.0,1597.0 1295.0,1609.5"/><polyline points="1340.0,1632.0 1330.0,1634.5 1320.0,1652.0 1320.0,1677.0 1310.0,1697.0 1300.0,1727.0 1300.0,1732.0 1340.0,1737.0 1395.0,1744.5 1395.0,1772.0 1415.0,1797.0 1425.0,1822.0 1450.0,1812.0 1465.0,1822.0 1490.0,1807.0 1515.0,1789.5 1535.0,1782.0 1540.0,1807.0 1550.0,1837.0 1555.0,1857.0 1575.0,1852.0 1600.0,1852.0 1615.0,1862.0 1622.5,1849.5 1610.0,1832.0 1615.0,1797.0 1610.0,1762.0 1595.0,1737.0 1590.0,1717.0 1600.0,1697.0 1605.0,1687.0"/><polyline points="1537.5,1809.5 1520.0,1827.0 1490.0,1842.0 1480.0,1867.0 1465.0,1882.0 1465.0,1897.0 1475.0,1899.5 1450.0,1907.0 1430.0,1917.0 1415.0,1942.0 1410.0,1967.0 1395.0,1957.0 1385.0,1952.0 1370.0,1969.5 1345.0,1972.0 1340.0,1987.0 1320.0,2002.0 1305.0,1997.0 1295.0,1992.0"/><polyline points="1410.0,1967.0 1425.0,1962.0 1440.0,1962.0 1450.0,1977.0 1455.0,1987.0 1467.5,1992.0 1465.0,2012.0 1455.0,2032.0 1447.5,2047.0 1455.0,2067.0 1465.0,2077.0"/><polyline points="1277.5,2042.0 1260.0,2037.0 1240.0,2042.0 1210.0,2052.0 1185.0,2052.0 1170.0,2042.0 1160.0,2037.0 1162.5,2057.0 1140.0,2067.0 1132.5,2092.0 1135.0,2117.0 1132.5,2132.0 1120.0,2147.0 1117.5,2157.0 1125.0,2177.0 1127.5,2197.0 1105.0,2202.0 1090.0,2207.0 1077.5,2197.0 1087.5,2217.0 1100.0,2232.0 1110.0,2242.0 1120.0,2262.0 1122.5,2277.0 1120.0,2292.0 1130.0,2307.0 1150.0,2327.0 1170.0,2347.0 1195.0,2377.0 1200.0,2394.0"/><polyline points="1725.0,1794.5 1760.0,1784.5 1760.0,1807.0 1750.0,1827.0 1750.0,1857.0 1770.0,1882.0"/><polyline points="1868.0,1677.0 1840.0,1652.0 1825.0,1672.0 1805.0,1647.0 1780.0,1682.0 1765.0,1692.0 1740.0,1677.0 1725.0,1662.0 1700.0,1649.5 1690.0,1667.0 1670.0,1687.0 1660.0,1694.5"/><polyline points="1795.0,1907.0 1820.0,1912.0 1840.0,1917.0 1850.0,1927.0 1868.0,1907.0"/><polyline points="1868.0,2227.0 1840.0,2222.0 1810.0,2217.0 1795.0,2222.0 1790.0,2237.0 1775.0,2242.0 1770.0,2262.0 1750.0,2277.0 1725.0,2297.0 1710.0,2282.0 1690.0,2272.0 1670.0,2262.0 1655.0,2247.0 1635.0,2257.0 1615.0,2252.0 1605.0,2277.0 1590.0,2292.0 1565.0,2312.0 1540.0,2332.0 1520.0,2317.0 1510.0,2317.0"/><polyline points="1868.0,1677.0 1883.0,1682.0 1888.0,1657.0 1913.0,1642.0 1928.0,1659.5 1953.0,1642.0 1973.0,1637.0 1988.0,1624.5 1983.0,1607.0 2003.0,1594.5 2028.0,1584.5 2043.0,1572.0 2053.0,1582.0 2073.0,1607.0 2093.0,1614.5 2113.0,1629.5 2138.0,1622.0 2158.0,1637.0 2188.0,1629.5 2223.0,1647.0 2213.0,1669.5 2198.0,1674.5 2195.5,1702.0 2208.0,1717.0 2210.5,1752.0 2238.0,1757.0 2253.0,1772.0 2278.0,1787.0 2293.0,1802.0 2318.0,1799.5 2348.0,1797.0 2368.0,1812.0 2373.0,1817.0"/><polyline points="2368.0,1817.0 2388.0,1807.0 2408.0,1797.0 2423.0,1792.0 2428.0,1762.0 2443.0,1767.0 2438.0,1787.0 2448.0,1797.0 2468.0,1777.0 2478.0,1787.0 2493.0,1799.5 2503.0,1802.0 2498.0,1822.0 2508.0,1829.5 2533.0,1824.5 2553.0,1817.0 2558.0,1787.0 2568.0,1802.0 2578.0,1817.0 2603.0,1822.0 2598.0,1837.0 2583.0,1842.0 2573.0,1867.0 2573.0,1887.0 2578.0,1912.0 2588.0,1937.0 2603.0,1967.0 2603.0,1982.0 2628.0,1979.5 2658.0,1972.0 2673.0,1957.0 2668.0,1937.0 2653.0,1912.0 2633.0,1897.0 2633.0,1877.0 2648.0,1862.0 2658.0,1847.0 2668.0,1837.0 2688.0,1832.0 2708.0,1827.0 2736.0,1817.0"/><polyline points="2373.0,1817.0 2358.0,1812.0 2343.0,1827.0 2318.0,1847.0 2303.0,1852.0 2293.0,1872.0 2278.0,1887.0 2263.0,1889.5 2258.0,1882.0 2233.0,1887.0 2218.0,1897.0 2213.0,1917.0 2203.0,1932.0 2200.5,1947.0 2193.0,1977.0 2178.0,1987.0 2158.0,1997.0 2138.0,2012.0 2123.0,2027.0 2108.0,2057.0 2103.0,2087.0 2098.0,2107.0 2083.0,2132.0 2078.0,2147.0 2088.0,2177.0 2098.0,2187.0 2113.0,2202.0 2133.0,2222.0 2148.0,2237.0 2168.0,2252.0 2188.0,2277.0 2178.0,2297.0 2183.0,2312.0 2198.0,2327.0 2213.0,2347.0 2228.0,2362.0 2248.0,2377.0 2263.0,2394.0"/><polyline points="1895.5,1884.5 1923.0,1902.0 1943.0,1917.0 1960.5,1927.0 1943.0,1942.0 1928.0,1952.0 1948.0,1957.0 1968.0,1967.0 1988.0,1982.0 2003.0,1997.0 1998.0,2017.0 1983.0,2027.0 1978.0,2037.0 1968.0,2047.0 1958.0,2062.0 1928.0,2057.0 1908.0,2052.0 1893.0,2057.0 1888.0,2067.0 1893.0,2082.0 1878.0,2097.0 1868.0,2102.0"/><polyline points="1868.0,2232.0 1883.0,2237.0 1898.0,2257.0 1913.0,2287.0 1923.0,2302.0 1943.0,2317.0 1968.0,2337.0 1978.0,2362.0 1983.0,2394.0"/><polyline points="186.0,1774.5 206.0,1774.5 226.0,1762.0 246.0,1752.0 261.0,1752.0 281.0,1737.0 291.0,1717.0 291.0,1692.0 281.0,1667.0 301.0,1677.0 336.0,1672.0 361.0,1649.5 386.0,1667.0 401.0,1697.0 411.0,1732.0 416.0,1767.0 411.0,1807.0 421.0,1822.0 431.0,1837.0 436.0,1862.0 451.0,1877.0 466.0,1912.0 476.0,1927.0 496.0,1942.0 511.0,1962.0 521.0,1982.0 536.0,1997.0 551.0,1982.0 566.0,2004.5 586.0,2004.5 601.0,2012.0 621.0,2027.0 626.0,2047.0 636.0,2062.0 656.0,2082.0 666.0,2102.0 671.0,2127.0 676.0,2147.0 686.0,2167.0 701.0,2187.0 716.0,2222.0 721.0,2237.0 726.0,2257.0 731.0,2282.0 741.0,2317.0 741.0,2337.0 736.0,2367.0 726.0,2397.0 721.0,2427.0 716.0,2457.0 706.0,2477.0 701.0,2497.0 696.0,2522.0 701.0,2537.0 716.0,2537.0 736.0,2517.0 746.0,2522.0 756.0,2547.0 776.0,2562.0 786.0,2557.0 801.0,2552.0 816.0,2562.0 836.0,2567.0 856.0,2547.0 876.0,2527.0 896.0,2512.0 916.0,2497.0 936.0,2497.0 946.0,2487.0 941.0,2467.0 941.0,2442.0 956.0,2452.0 986.0,2442.0 1006.0,2427.0 1016.0,2407.0 1021.0,2377.0 1018.5,2347.0 1036.0,2362.0 1054.0,2377.0"/><polyline points="266.0,1549.5 261.0,1567.0 258.5,1592.0 261.0,1617.0 256.0,1637.0 251.0,1652.0"/><polyline points="336.0,1572.0 346.0,1592.0 351.0,1609.5 356.0,1587.0 366.0,1592.0 376.0,1622.0 386.0,1624.5 401.0,1612.0 406.0,1597.0 401.0,1582.0 411.0,1567.0 421.0,1552.0 436.0,1537.0 446.0,1527.0 456.0,1522.0 466.0,1547.0 471.0,1567.0 476.0,1582.0 471.0,1597.0 476.0,1622.0 486.0,1647.0 491.0,1672.0 496.0,1697.0 501.0,1727.0 501.0,1752.0 506.0,1772.0 506.0,1797.0 506.0,1827.0 501.0,1842.0 486.0,1827.0 471.0,1819.5 456.0,1832.0 451.0,1852.0 456.0,1867.0 466.0,1897.0 468.5,1912.0"/><polyline points="596.0,1517.0 601.0,1542.0 596.0,1567.0 586.0,1592.0 581.0,1617.0 571.0,1614.5 561.0,1637.0 566.0,1667.0 571.0,1692.0 566.0,1717.0 556.0,1737.0 536.0,1747.0 526.0,1737.0 516.0,1732.0 511.0,1752.0 501.0,1747.0"/><polyline points="900.0,2505.0 915.0,2495.0 920.0,2487.5 935.0,2487.5 950.0,2475.0 945.0,2460.0 940.0,2445.0 940.0,2432.5 947.5,2430.0 940.0,2450.0 950.0,2465.0 970.0,2467.5 990.0,2460.0 1015.0,2435.0 1020.0,2415.0 1025.0,2400.0 1020.0,2385.0 1020.0,2365.0 1017.5,2347.5 1025.0,2355.0 1045.0,2370.0 1055.0,2395.0 1060.0,2420.0 1070.0,2440.0 1080.0,2465.0 1090.0,2470.0 1110.0,2465.0 1120.0,2460.0 1110.0,2470.0 1105.0,2490.0 1107.5,2505.0 1105.0,2525.0 1115.0,2545.0 1125.0,2570.0 1130.0,2610.0 1125.0,2620.0 1130.0,2635.0 1132.5,2660.0 1132.5,2685.0 1145.0,2725.0 1160.0,2755.0 1165.0,2780.0 1170.0,2795.0 1185.0,2830.0 1200.0,2850.0 1210.0,2875.0 1215.0,2900.0 1230.0,2915.0 1230.0,2950.0 1235.0,2965.0 1230.0,2990.0 1235.0,3010.0 1240.0,3025.0 1240.0,3050.0 1230.0,3065.0 1245.0,3080.0 1260.0,3095.0 1245.0,3095.0 1240.0,3120.0 1245.0,3150.0 1240.0,3180.0 1235.0,3195.0 1220.0,3210.0 1210.0,3225.0 1215.0,3260.0 1220.0,3300.0 1225.0,3330.0 1220.0,3357.0"/><polyline points="1120.0,2300.0 1140.0,2320.0 1165.0,2345.0 1185.0,2365.0 1200.0,2390.0 1215.0,2400.0 1225.0,2425.0 1220.0,2440.0 1235.0,2460.0 1240.0,2480.0 1245.0,2495.0 1255.0,2480.0 1265.0,2485.0 1265.0,2505.0 1255.0,2520.0 1240.0,2520.0 1232.5,2530.0 1230.0,2550.0 1225.0,2580.0 1230.0,2605.0 1225.0,2620.0 1210.0,2617.5 1205.0,2627.5 1185.0,2635.0 1180.0,2645.0 1185.0,2680.0 1195.0,2700.0 1215.0,2725.0 1230.0,2745.0 1260.0,2770.0 1275.0,2785.0 1290.0,2815.0 1300.0,2830.0 1300.0,2850.0 1305.0,2875.0 1305.0,2895.0 1295.0,2905.0 1290.0,2920.0 1300.0,2950.0 1310.0,2965.0 1330.0,2980.0 1330.0,3000.0 1335.0,3025.0 1345.0,3040.0 1345.0,3065.0 1355.0,3080.0 1350.0,3090.0 1335.0,3110.0 1320.0,3140.0 1305.0,3170.0 1290.0,3185.0 1265.0,3200.0 1250.0,3215.0 1255.0,3240.0 1245.0,3265.0 1235.0,3290.0 1225.0,3310.0 1220.0,3325.0"/><polyline points="1768.0,3060.0 1750.0,3040.0 1730.0,3015.0 1710.0,3030.0 1690.0,3040.0 1680.0,3020.0 1660.0,3005.0 1645.0,2985.0 1635.0,2985.0 1620.0,2970.0 1605.0,2965.0 1570.0,2975.0 1545.0,2970.0 1515.0,2975.0 1500.0,2965.0 1510.0,2940.0 1510.0,2925.0 1505.0,2900.0 1517.5,2880.0 1515.0,2865.0 1470.0,2860.0 1435.0,2865.0 1410.0,2870.0 1395.0,2885.0 1400.0,2900.0 1410.0,2910.0 1410.0,2925.0 1400.0,2950.0 1395.0,2980.0 1400.0,3000.0 1400.0,3025.0 1390.0,3040.0 1380.0,3050.0 1370.0,3075.0 1360.0,3100.0 1350.0,3125.0 1340.0,3150.0 1335.0,3180.0 1325.0,3210.0 1310.0,3235.0 1300.0,3265.0 1295.0,3290.0 1300.0,3325.0 1295.0,3357.0"/><polyline points="1768.0,2765.0 1750.0,2780.0 1740.0,2800.0 1725.0,2825.0 1710.0,2840.0 1690.0,2850.0 1685.0,2870.0 1695.0,2900.0 1705.0,2930.0 1705.0,2955.0 1720.0,2980.0 1730.0,3000.0 1730.0,3015.0"/><polyline points="1590.0,2300.0 1560.0,2320.0 1540.0,2340.0 1520.0,2330.0 1510.0,2330.0"/><polyline points="2178.0,2300.0 2188.0,2315.0 2203.0,2340.0 2233.0,2365.0 2263.0,2390.0 2293.0,2425.0 2303.0,2450.0 2323.0,2455.0 2343.0,2480.0 2353.0,2490.0 2383.0,2500.0 2393.0,2520.0 2398.0,2530.0 2403.0,2520.0 2413.0,2545.0 2428.0,2570.0 2438.0,2590.0 2448.0,2600.0 2468.0,2610.0 2478.0,2640.0 2488.0,2670.0 2498.0,2700.0 2508.0,2730.0 2518.0,2760.0 2523.0,2785.0 2518.0,2815.0 2523.0,2830.0 2518.0,2850.0 2523.0,2880.0 2533.0,2910.0 2543.0,2930.0 2543.0,2945.0 2528.0,2965.0 2513.0,2985.0 2518.0,3000.0 2528.0,3010.0 2513.0,3025.0 2513.0,3060.0 2518.0,3080.0 2513.0,3100.0 2503.0,3120.0 2488.0,3145.0 2468.0,3155.0 2448.0,3165.0 2423.0,3180.0 2408.0,3195.0 2388.0,3205.0 2368.0,3215.0 2358.0,3230.0 2338.0,3235.0 2323.0,3240.0 2298.0,3255.0 2278.0,3270.0 2263.0,3260.0 2248.0,3255.0 2233.0,3240.0 2218.0,3235.0 2208.0,3250.0 2198.0,3265.0 2208.0,3280.0 2218.0,3300.0 2223.0,3315.0 2208.0,3330.0 2198.0,3350.0"/><polyline points="2198.0,3265.0 2178.0,3270.0 2163.0,3280.0 2148.0,3290.0 2138.0,3300.0 2168.0,3325.0 2188.0,3340.0 2198.0,3357.0"/><polyline points="2538.0,2525.0 2553.0,2550.0 2568.0,2580.0 2583.0,2615.0 2593.0,2645.0"/><polyline points="2623.0,2800.0 2636.0,2770.0"/><polyline points="2328.0,2640.0 2318.0,2655.0 2308.0,2670.0 2313.0,2690.0 2313.0,2705.0 2313.0,2725.0 2298.0,2740.0 2293.0,2755.0 2293.0,2780.0 2303.0,2800.0 2303.0,2820.0 2313.0,2835.0 2323.0,2850.0 2323.0,2875.0 2313.0,2900.0 2308.0,2925.0 2318.0,2950.0 2318.0,2980.0 2313.0,3010.0"/><polyline points="1768.0,2755.0 1788.0,2747.5 1818.0,2740.0 1843.0,2740.0 1868.0,2747.5 1893.0,2745.0 1918.0,2742.5 1948.0,2747.5 1963.0,2740.0 1983.0,2740.0 2003.0,2747.5 2008.0,2760.0 2013.0,2765.0 2023.0,2760.0 2028.0,2750.0 2033.0,2765.0 2048.0,2780.0 2068.0,2775.0 2088.0,2785.0 2103.0,2795.0 2113.0,2800.0 2128.0,2802.5 2143.0,2800.0 2148.0,2785.0 2138.0,2770.0 2128.0,2755.0 2123.0,2750.0 2138.0,2745.0 2153.0,2745.0 2158.0,2730.0 2168.0,2735.0 2183.0,2720.0 2193.0,2720.0 2203.0,2730.0 2213.0,2740.0 2228.0,2755.0 2248.0,2745.0 2268.0,2735.0 2293.0,2715.0 2313.0,2705.0"/><polyline points="1928.0,2300.0 1948.0,2320.0 1968.0,2335.0 1983.0,2360.0 1978.0,2400.0 1973.0,2440.0 1978.0,2470.0 1993.0,2490.0 2008.0,2515.0 2028.0,2525.0 2048.0,2530.0 2053.0,2535.0 2048.0,2545.0 2058.0,2560.0 2073.0,2570.0 2083.0,2585.0 2078.0,2600.0 2068.0,2620.0 2063.0,2645.0 2073.0,2665.0 2068.0,2690.0 2068.0,2710.0 2058.0,2730.0 2038.0,2745.0 2028.0,2750.0"/><polyline points="2193.0,2410.0 2193.0,2425.0 2198.0,2450.0 2208.0,2470.0 2218.0,2477.5 2223.0,2470.0"/><polyline points="1768.0,3170.0 1788.0,3190.0 1808.0,3180.0 1818.0,3170.0 1828.0,3165.0 1838.0,3175.0 1843.0,3200.0 1848.0,3220.0 1828.0,3230.0 1823.0,3240.0 1843.0,3250.0 1868.0,3245.0 1888.0,3250.0 1913.0,3255.0 1928.0,3260.0 1943.0,3265.0 1958.0,3260.0 1978.0,3275.0 1998.0,3300.0 2008.0,3320.0 2018.0,3330.0 2008.0,3345.0 1988.0,3357.0"/><polyline points="2178.0,3060.0 2178.0,3090.0 2163.0,3085.0 2138.0,3090.0 2118.0,3100.0 2108.0,3110.0 2113.0,3130.0 2113.0,3150.0 2118.0,3180.0 2138.0,3195.0 2148.0,3205.0 2143.0,3215.0 2118.0,3215.0 2098.0,3220.0 2078.0,3215.0 2063.0,3200.0 2048.0,3200.0 2028.0,3195.0 2013.0,3205.0 2008.0,3220.0 1998.0,3230.0"/><polyline points="1230.0,3020.0 1240.0,3030.0 1235.0,3040.0 1240.0,3050.0 1245.0,3060.0 1230.0,3075.0 1235.0,3090.0 1250.0,3095.0 1260.0,3095.0 1245.0,3100.0 1240.0,3120.0 1240.0,3140.0 1245.0,3155.0 1240.0,3170.0 1235.0,3190.0 1230.0,3210.0 1220.0,3225.0 1215.0,3230.0 1220.0,3265.0 1220.0,3290.0 1225.0,3315.0 1220.0,3340.0 1220.0,3350.0 1210.0,3370.0 1200.0,3400.0 1195.0,3420.0 1195.0,3440.0 1190.0,3460.0 1180.0,3490.0 1180.0,3510.0 1190.0,3540.0 1200.0,3560.0 1190.0,3575.0"/><polyline points="1400.0,3020.0 1395.0,3035.0 1385.0,3050.0 1370.0,3070.0 1355.0,3105.0 1340.0,3140.0 1330.0,3170.0 1320.0,3195.0 1310.0,3220.0 1305.0,3240.0 1295.0,3265.0 1300.0,3285.0 1295.0,3310.0 1295.0,3340.0 1300.0,3360.0 1310.0,3385.0 1315.0,3400.0 1305.0,3410.0 1310.0,3420.0 1330.0,3422.5 1350.0,3410.0 1375.0,3407.5 1385.0,3420.0 1390.0,3450.0 1395.0,3480.0 1400.0,3505.0 1415.0,3525.0 1420.0,3515.0 1430.0,3545.0 1435.0,3575.0"/><polyline points="1345.0,3020.0 1345.0,3035.0 1350.0,3060.0 1355.0,3080.0 1340.0,3100.0 1325.0,3120.0 1310.0,3145.0 1300.0,3165.0 1280.0,3190.0 1265.0,3210.0 1250.0,3225.0 1250.0,3240.0 1255.0,3250.0 1245.0,3270.0 1235.0,3295.0 1225.0,3320.0"/><polyline points="1680.0,3020.0 1700.0,3032.5 1715.0,3030.0 1730.0,3045.0 1745.0,3075.0 1760.0,3110.0 1770.0,3130.0 1775.0,3160.0 1775.0,3195.0 1785.0,3205.0 1805.0,3200.0 1820.0,3170.0 1835.0,3167.5 1845.0,3185.0 1850.0,3205.0 1845.0,3220.0 1830.0,3222.5 1825.0,3235.0 1840.0,3250.0 1850.0,3252.5 1870.0,3242.5 1900.0,3240.0 1920.0,3245.0 1940.0,3265.0 1955.0,3285.0 1968.0,3295.0"/><polyline points="2518.0,3020.0 2513.0,3040.0 2518.0,3065.0 2508.0,3080.0 2513.0,3095.0 2508.0,3110.0 2493.0,3115.0 2493.0,3140.0 2473.0,3145.0 2463.0,3150.0 2438.0,3165.0 2418.0,3175.0 2403.0,3185.0 2383.0,3195.0 2373.0,3210.0 2368.0,3225.0 2348.0,3230.0 2328.0,3240.0 2308.0,3250.0 2293.0,3260.0 2278.0,3267.5 2268.0,3260.0 2248.0,3255.0 2228.0,3260.0 2218.0,3280.0 2223.0,3300.0 2213.0,3315.0 2203.0,3330.0 2188.0,3345.0 2198.0,3360.0 2188.0,3375.0 2173.0,3377.5 2153.0,3370.0 2148.0,3380.0 2143.0,3400.0 2118.0,3415.0 2083.0,3425.0 2058.0,3435.0 2048.0,3460.0 2043.0,3475.0 2028.0,3485.0 2008.0,3495.0 1988.0,3500.0 1973.0,3505.0 1978.0,3490.0 1988.0,3480.0 1978.0,3475.0 1983.0,3420.0 1983.0,3370.0 1988.0,3345.0 2008.0,3325.0 2018.0,3335.0 2013.0,3315.0 2003.0,3305.0 1988.0,3295.0 1968.0,3290.0"/><polyline points="2140.5,3287.5 2158.0,3305.0 2183.0,3330.0 2208.0,3340.0"/><polyline points="2160.5,3285.0 2178.0,3305.0 2198.0,3320.0 2213.0,3330.0"/><polyline points="2178.0,3277.5 2203.0,3285.0 2223.0,3300.0"/><polyline points="1968.0,3250.0 1983.0,3240.0 1998.0,3230.0 2008.0,3217.5 2018.0,3210.0 2015.5,3195.0 2033.0,3200.0 2048.0,3195.0 2068.0,3190.0 2088.0,3187.5 2103.0,3190.0 2118.0,3195.0 2138.0,3195.0 2148.0,3190.0 2148.0,3180.0 2138.0,3170.0 2123.0,3160.0 2113.0,3150.0 2108.0,3135.0 2108.0,3110.0 2103.0,3105.0 2118.0,3100.0 2128.0,3090.0 2148.0,3090.0 2168.0,3095.0 2178.0,3100.0 2178.0,3080.0 2178.0,3060.0 2203.0,3060.0 2223.0,3055.0 2248.0,3045.0 2263.0,3030.0 2268.0,3020.0"/><polyline points="2653.0,3020.0 2648.0,3070.0 2643.0,3105.0 2628.0,3150.0"/><polygon points="2443.0,2097.0 2468.0,2082.0 2493.0,2062.0 2513.0,2047.0 2523.0,2037.0 2538.0,2027.0 2558.0,2022.0 2578.0,2014.5 2603.0,2012.0 2628.0,2007.0 2648.0,2002.0 2668.0,2002.0 2688.0,1997.0 2698.0,1997.0 2718.0,2007.0 2728.0,2027.0 2736.0,2047.0 2728.0,2062.0 2713.0,2072.0 2698.0,2087.0 2688.0,2107.0 2683.0,2132.0 2673.0,2162.0 2668.0,2182.0 2653.0,2192.0 2628.0,2197.0 2618.0,2207.0 2598.0,2217.0 2578.0,2224.5 2568.0,2232.0 2553.0,2227.0 2538.0,2222.0 2518.0,2217.0 2493.0,2212.0 2468.0,2207.0 2450.5,2202.0 2448.0,2182.0 2445.5,2162.0 2443.0,2137.0 2443.0,2117.0 2443.0,2097.0"/><polygon points="358.5,1672.0 371.0,1682.0 376.0,1704.5 366.0,1707.0 356.0,1687.0 358.5,1672.0"/><polygon points="318.5,1682.0 328.5,1707.0 328.5,1722.0 311.0,1739.5 313.5,1712.0 318.5,1682.0"/><polygon points="608.5,2092.0 626.0,2087.0 646.0,2097.0 658.5,2112.0 636.0,2112.0 616.0,2107.0 608.5,2092.0"/><polygon points="611.0,2162.0 636.0,2159.5 641.0,2177.0 633.5,2187.0 616.0,2177.0 611.0,2162.0"/><polygon points="1672.5,3040.0 1685.0,3040.0 1695.0,3060.0 1680.0,3062.5 1672.5,3040.0"/><polygon points="1706.0,3090.0 1712.5,3100.0 1712.5,3112.5 1705.0,3110.0 1706.0,3090.0"/><polygon points="1195.0,2970.0 1207.5,2975.0 1212.5,2995.0 1200.0,3015.0 1192.5,3000.0 1195.0,2970.0"/><polygon points="1150.0,3007.5 1165.0,3005.0 1160.0,3020.0 1150.0,3007.5"/><polygon points="1202.5,3085.0 1220.0,3082.5 1222.5,3107.5 1207.5,3112.5 1202.5,3085.0"/><polygon points="1190.0,3085.0 1180.0,3120.0 1177.5,3127.5 1185.0,3100.0 1190.0,3085.0"/><polygon points="1167.5,3200.0 1177.5,3192.5 1187.5,3210.0 1187.5,3227.5 1180.0,3225.0 1167.5,3200.0"/><polygon points="1172.5,3335.0 1180.0,3320.0 1190.0,3315.0 1190.0,3322.5 1172.5,3335.0"/><polygon points="1865.5,3270.0 1883.0,3262.5 1893.0,3272.5 1890.5,3295.0 1885.5,3305.0 1875.5,3285.0 1865.5,3270.0"/><polygon points="1160.0,3020.0 1170.0,3020.0 1172.5,3037.5 1162.5,3035.0 1160.0,3020.0"/><polygon points="1207.5,3042.5 1217.5,3050.0 1235.0,3065.0 1212.5,3070.0 1207.5,3042.5"/><polygon points="1202.5,3082.5 1220.0,3082.5 1222.5,3107.5 1212.5,3112.5 1202.5,3100.0 1202.5,3082.5"/><polygon points="1190.0,3085.0 1192.5,3100.0 1187.5,3125.0 1177.5,3127.5 1185.0,3100.0 1190.0,3085.0"/><polygon points="1165.0,3200.0 1175.0,3190.0 1182.5,3200.0 1190.0,3225.0 1185.0,3227.5 1180.0,3210.0 1165.0,3200.0"/><polygon points="1170.0,3335.0 1172.5,3320.0 1182.5,3312.5 1191.0,3312.5 1190.0,3317.5 1175.0,3327.5 1170.0,3335.0"/><polygon points="1390.0,3375.0 1407.5,3371.0 1406.0,3387.5 1395.0,3392.5 1390.0,3375.0"/><polygon points="1670.0,3040.0 1680.0,3037.5 1692.5,3057.5 1682.5,3062.5 1670.0,3040.0"/><polygon points="1705.0,3100.0 1710.0,3090.0 1715.0,3100.0 1712.5,3112.5 1705.0,3100.0"/><polygon points="1865.0,3270.0 1885.0,3260.0 1892.5,3270.0 1887.5,3305.0 1877.5,3285.0 1865.0,3270.0"/><polygon points="2675.5,3565.0 2690.5,3559.0 2693.0,3565.0 2678.0,3571.0 2675.5,3565.0"/><polygon points="526.0,2850.0 535.0,2846.0 545.0,2852.0 558.0,2880.0 556.0,2915.0 548.0,2935.0 540.0,2942.0 532.0,2935.0 526.0,2900.0 526.0,2850.0"/><polygon points="515.0,2938.0 530.0,2940.0 540.0,2975.0 545.0,3000.0 538.0,3020.0 530.0,3040.0 525.0,3080.0 520.0,3110.0 510.0,3100.0 498.0,3070.0 492.0,3035.0 500.0,3020.0 505.0,2985.0 515.0,2938.0"/><polygon points="502.0,3125.0 510.0,3122.0 515.0,3135.0 508.0,3142.0 501.0,3138.0 502.0,3125.0"/><polygon points="470.0,3225.0 483.0,3202.0 490.0,3200.0 497.0,3225.0 492.0,3245.0 485.0,3252.0 472.0,3248.0 470.0,3225.0"/><polygon points="514.0,3420.0 519.0,3414.0 525.0,3420.0 527.0,3430.0 520.0,3434.0 514.0,3430.0 514.0,3420.0"/><polygon points="603.0,3560.0 607.0,3549.0 614.0,3552.0 612.0,3575.0 606.0,3575.0 603.0,3560.0"/></g><g fill="none" stroke="#ff0000" stroke-width="8" stroke-linejoin="round" stroke-linecap="round"><polyline points="854.0,497.5 861.0,505.0 886.0,505.0 896.0,515.0 921.0,527.5 946.0,540.0 961.0,547.5 973.5,562.5 968.5,575.0 986.0,580.0 1001.0,580.0 1026.0,595.0 1054.0,612.5"/><polyline points="1052.5,369.0 1075.0,377.5 1080.0,385.0 1100.0,397.5 1125.0,410.0 1150.0,425.0 1137.5,440.0 1135.0,460.0 1140.0,480.0 1145.0,495.0 1122.5,510.0 1117.5,530.0 1135.0,552.5 1145.0,575.0 1150.0,595.0 1177.5,602.5 1185.0,620.0 1200.0,632.5 1215.0,650.0 1215.0,680.0 1210.0,705.0 1215.0,730.0 1215.0,755.0 1220.0,780.0 1240.0,800.0 1245.0,820.0 1255.0,855.0 1270.0,862.5 1275.0,880.0 1272.5,910.0 1280.0,917.5 1272.5,930.0 1280.0,950.0 1295.0,980.0 1285.0,1005.0 1277.5,1030.0 1277.5,1100.0 1280.0,1130.0 1280.0,1180.0 1277.5,1220.0 1290.0,1260.0 1285.0,1280.0 1287.5,1310.0 1300.0,1330.0 1310.0,1337.0"/><polyline points="1000.0,577.5 1020.0,590.0 1040.0,605.0 1060.0,620.0 1075.0,632.5 1092.5,652.5 1105.0,680.0 1115.0,690.0 1130.0,695.0 1137.5,720.0 1150.0,737.5 1160.0,755.0 1167.5,785.0 1180.0,795.0 1200.0,805.0 1215.0,820.0 1215.0,840.0 1222.5,860.0 1230.0,895.0 1240.0,912.5 1245.0,925.0 1242.5,945.0 1250.0,960.0 1252.5,985.0 1255.0,1005.0"/><polyline points="1415.0,1285.0 1440.0,1280.0 1452.5,1285.0 1450.0,1300.0 1440.0,1307.5 1430.0,1300.0 1415.0,1300.0 1420.0,1320.0 1430.0,1337.0"/><polyline points="1315.0,1337.0 1340.0,1352.0 1350.0,1367.0 1350.0,1387.0 1360.0,1412.0 1370.0,1432.0 1370.0,1447.0 1357.5,1462.0 1355.0,1472.0 1370.0,1462.0 1385.0,1454.5 1410.0,1449.5 1417.5,1462.0 1425.0,1487.0 1420.0,1507.0 1415.0,1527.0 1405.0,1534.5 1395.0,1527.0 1387.5,1507.0 1385.0,1502.0 1380.0,1522.0 1360.0,1529.5 1340.0,1532.0 1320.0,1542.0 1307.5,1557.0 1300.0,1577.0 1297.5,1607.0 1315.0,1602.0 1340.0,1612.0 1345.0,1627.0 1357.5,1637.0 1365.0,1654.5 1355.0,1672.0 1340.0,1682.0 1330.0,1702.0 1340.0,1722.0 1330.0,1737.0 1310.0,1747.0 1305.0,1777.0 1315.0,1797.0 1330.0,1812.0 1335.0,1837.0 1345.0,1867.0 1350.0,1877.0 1330.0,1887.0 1315.0,1907.0 1300.0,1922.0 1290.0,1947.0 1285.0,1957.0 1300.0,1972.0 1300.0,1987.0 1285.0,2002.0 1280.0,2017.0 1280.0,2047.0 1290.0,2062.0 1310.0,2072.0 1315.0,2097.0 1315.0,2122.0 1325.0,2142.0 1335.0,2137.0 1345.0,2122.0 1345.0,2087.0 1355.0,2082.0 1360.0,2097.0 1365.0,2117.0 1375.0,2137.0 1390.0,2147.0 1400.0,2157.0 1410.0,2147.0 1415.0,2117.0 1430.0,2097.0 1450.0,2087.0 1465.0,2082.0 1470.0,2072.0 1495.0,2072.0 1505.0,2062.0 1525.0,2062.0 1550.0,2067.0 1550.0,2082.0 1545.0,2097.0 1550.0,2117.0 1560.0,2137.0 1555.0,2157.0 1550.0,2187.0 1540.0,2207.0 1530.0,2217.0 1540.0,2237.0 1540.0,2262.0 1535.0,2287.0 1525.0,2302.0 1515.0,2332.0 1505.0,2347.0 1500.0,2362.0 1505.0,2377.0 1520.0,2382.0 1530.0,2394.0"/><polyline points="1530.0,2394.0 1535.0,2382.0 1555.0,2377.0 1570.0,2382.0 1580.0,2394.0"/><polyline points="1425.0,1337.0 1430.0,1357.0 1450.0,1377.0 1470.0,1397.0 1485.0,1427.0 1495.0,1447.0 1510.0,1472.0 1520.0,1507.0 1522.5,1537.0 1530.0,1577.0 1535.0,1602.0 1550.0,1612.0 1560.0,1637.0 1570.0,1657.0 1585.0,1672.0 1605.0,1687.0 1625.0,1697.0 1640.0,1692.0 1660.0,1697.0 1680.0,1722.0 1700.0,1742.0 1715.0,1762.0 1720.0,1787.0 1720.0,1817.0 1720.0,1842.0 1735.0,1832.0 1760.0,1812.0 1775.0,1807.0 1780.0,1827.0 1780.0,1862.0 1770.0,1882.0 1795.0,1907.0 1800.0,1927.0 1785.0,1947.0 1790.0,1972.0 1815.0,1987.0 1822.5,2012.0 1845.0,2027.0 1840.0,2047.0 1810.0,2052.0 1800.0,2087.0 1820.0,2097.0 1845.0,2117.0 1868.0,2147.0"/><polyline points="1868.0,2144.5 1893.0,2132.0 1918.0,2127.0 1938.0,2137.0 1953.0,2152.0 1968.0,2167.0 1993.0,2177.0 2018.0,2187.0 2023.0,2197.0 2018.0,2207.0 2013.0,2222.0 2023.0,2227.0 2043.0,2242.0 2058.0,2247.0 2068.0,2257.0 2078.0,2277.0 2088.0,2297.0 2098.0,2312.0 2113.0,2327.0 2123.0,2337.0 2138.0,2352.0 2158.0,2367.0 2168.0,2387.0 2173.0,2394.0"/><polyline points="1520.0,2300.0 1510.0,2315.0 1500.0,2340.0 1510.0,2355.0 1525.0,2365.0 1530.0,2390.0 1522.5,2415.0 1532.5,2405.0 1535.0,2375.0 1545.0,2370.0 1570.0,2367.5 1580.0,2390.0 1587.5,2415.0 1587.5,2435.0 1575.0,2450.0 1570.0,2475.0 1570.0,2500.0 1555.0,2510.0 1565.0,2525.0 1560.0,2550.0 1560.0,2580.0 1570.0,2600.0 1575.0,2625.0 1580.0,2660.0 1575.0,2685.0 1560.0,2700.0 1560.0,2725.0 1570.0,2745.0 1590.0,2740.0 1610.0,2755.0 1635.0,2745.0 1640.0,2765.0 1660.0,2770.0 1680.0,2775.0 1700.0,2780.0 1705.0,2795.0 1690.0,2805.0 1675.0,2815.0 1670.0,2840.0 1680.0,2860.0 1680.0,2885.0 1675.0,2910.0 1660.0,2925.0 1670.0,2945.0 1690.0,2955.0 1705.0,2965.0 1720.0,2985.0 1730.0,3000.0 1740.0,3020.0 1750.0,3035.0 1768.0,3040.0"/><polyline points="2088.0,2300.0 2098.0,2315.0 2118.0,2330.0 2128.0,2345.0 2148.0,2360.0 2163.0,2375.0 2173.0,2390.0 2188.0,2405.0 2208.0,2410.0 2203.0,2425.0 2208.0,2440.0 2218.0,2455.0 2228.0,2465.0 2238.0,2480.0 2248.0,2490.0 2263.0,2485.0 2273.0,2490.0 2283.0,2505.0 2298.0,2520.0 2303.0,2535.0 2293.0,2545.0 2273.0,2555.0 2273.0,2570.0 2283.0,2585.0 2298.0,2600.0 2318.0,2615.0 2333.0,2630.0 2338.0,2645.0 2348.0,2660.0 2368.0,2665.0 2388.0,2670.0 2398.0,2685.0 2408.0,2695.0 2413.0,2715.0 2413.0,2740.0 2408.0,2755.0 2398.0,2770.0 2388.0,2785.0 2378.0,2800.0 2368.0,2815.0 2373.0,2830.0 2383.0,2850.0 2393.0,2870.0 2398.0,2890.0 2403.0,2915.0 2408.0,2940.0 2418.0,2950.0 2438.0,2955.0 2458.0,2965.0 2458.0,2990.0 2453.0,3010.0 2453.0,3030.0 2438.0,3035.0 2418.0,3040.0 2398.0,3050.0 2388.0,3060.0 2383.0,3080.0 2368.0,3070.0 2348.0,3070.0 2338.0,3050.0 2333.0,3030.0 2323.0,3020.0 2303.0,3020.0 2293.0,3010.0 2273.0,3010.0 2258.0,3020.0 2248.0,3030.0 2238.0,3045.0 2223.0,3055.0 2203.0,3060.0 2188.0,3065.0 2168.0,3075.0 2153.0,3080.0 2138.0,3070.0 2123.0,3065.0 2108.0,3065.0 2088.0,3060.0 2078.0,3060.0 2068.0,3070.0 2063.0,3085.0 2058.0,3110.0 2058.0,3140.0 2053.0,3160.0 2048.0,3180.0 2053.0,3200.0 2058.0,3220.0 2068.0,3230.0 2058.0,3240.0 2053.0,3250.0 2058.0,3270.0 2068.0,3280.0 2088.0,3295.0 2098.0,3310.0 2108.0,3325.0 2118.0,3340.0 2133.0,3350.0 2153.0,3350.0 2158.0,3357.0"/><polyline points="1768.0,3040.0 1793.0,3030.0 1808.0,3040.0 1828.0,3050.0 1848.0,3065.0 1863.0,3080.0 1858.0,3100.0 1873.0,3120.0 1883.0,3140.0 1888.0,3155.0 1903.0,3170.0 1918.0,3185.0 1938.0,3190.0 1948.0,3200.0 1958.0,3210.0 1968.0,3225.0 1978.0,3235.0 1998.0,3250.0 2003.0,3270.0 2018.0,3260.0 2038.0,3250.0 2033.0,3270.0 2043.0,3280.0 2058.0,3295.0 2073.0,3310.0 2088.0,3320.0 2098.0,3335.0 2108.0,3350.0 2118.0,3357.0"/><polyline points="1740.0,3020.0 1750.0,3030.0 1765.0,3032.5 1780.0,3042.5 1790.0,3027.5 1805.0,3035.0 1820.0,3042.5 1840.0,3055.0 1860.0,3070.0 1860.0,3090.0 1865.0,3105.0 1875.0,3110.0 1880.0,3130.0 1885.0,3140.0 1895.0,3160.0 1910.0,3170.0 1920.0,3185.0 1945.0,3185.0 1950.0,3205.0 1968.0,3225.0"/><polyline points="1968.0,3220.0 1983.0,3235.0 1998.0,3245.0 2003.0,3255.0 2003.0,3267.5 2023.0,3255.0 2033.0,3250.0 2043.0,3255.0 2048.0,3270.0 2058.0,3285.0 2068.0,3295.0 2083.0,3300.0 2093.0,3310.0 2108.0,3315.0 2123.0,3320.0 2133.0,3325.0 2148.0,3340.0 2163.0,3345.0 2158.0,3365.0"/><polyline points="2083.0,3060.0 2068.0,3070.0 2058.0,3085.0 2058.0,3105.0 2063.0,3120.0 2055.5,3140.0 2053.0,3160.0 2048.0,3175.0 2053.0,3190.0 2063.0,3220.0 2053.0,3230.0 2048.0,3240.0 2053.0,3255.0 2068.0,3270.0 2088.0,3275.0 2098.0,3290.0 2108.0,3305.0 2118.0,3310.0 2133.0,3320.0 2138.0,3330.0 2148.0,3345.0 2158.0,3350.0"/><polyline points="2083.0,3060.0 2103.0,3065.0 2118.0,3065.0 2133.0,3070.0 2148.0,3080.0 2168.0,3075.0 2188.0,3065.0 2208.0,3070.0 2228.0,3055.0 2248.0,3045.0 2268.0,3020.0"/><polyline points="2298.0,3020.0 2318.0,3030.0 2338.0,3040.0 2348.0,3060.0 2368.0,3070.0 2378.0,3080.0 2388.0,3065.0 2403.0,3050.0 2418.0,3040.0 2438.0,3035.0 2453.0,3027.5 2455.5,3020.0"/><polyline points="855.0,497.0 846.0,462.0 819.0,448.0 807.0,447.0 770.0,420.0 726.0,397.0 696.0,393.0 687.0,387.0 690.0,381.0 720.0,375.0 747.0,366.0 700.0,330.0 666.0,297.0 655.0,291.0 654.0,279.0 672.0,270.0 696.0,240.0 720.0,234.0 723.0,228.0 726.0,207.0 743.0,205.0 770.0,250.0 820.0,285.0 880.0,305.0 960.0,335.0 1010.0,350.0 1052.0,369.0"/></g>
</g>
<rect x="186.9" y="120.5" width="2666.6" height="3459.0" fill="none" stroke="#000" stroke-width="8"/>
<g class="tk"><text x="550.5" y="93.0" text-anchor="middle">93°E</text><text x="550.5" y="3633.5" text-anchor="middle">93°E</text><text x="914.2" y="93.0" text-anchor="middle">96°E</text><text x="914.2" y="3633.5" text-anchor="middle">96°E</text><text x="1277.8" y="93.0" text-anchor="middle">99°E</text><text x="1277.8" y="3633.5" text-anchor="middle">99°E</text><text x="1641.4" y="93.0" text-anchor="middle">102°E</text><text x="1641.4" y="3633.5" text-anchor="middle">102°E</text><text x="2005.0" y="93.0" text-anchor="middle">105°E</text><text x="2005.0" y="3633.5" text-anchor="middle">105°E</text><text x="2368.7" y="93.0" text-anchor="middle">108°E</text><text x="2368.7" y="3633.5" text-anchor="middle">108°E</text><text x="2732.3" y="93.0" text-anchor="middle">111°E</text><text x="2732.3" y="3633.5" text-anchor="middle">111°E</text><text x="166.0" y="3331.5" text-anchor="end">10°N</text><text x="2873.0" y="3331.5" text-anchor="start">10°N</text><text x="166.0" y="2678.8" text-anchor="end">15°N</text><text x="2873.0" y="2678.8" text-anchor="start">15°N</text><text x="166.0" y="2026.2" text-anchor="end">20°N</text><text x="2873.0" y="2026.2" text-anchor="start">20°N</text><text x="166.0" y="1373.5" text-anchor="end">25°N</text><text x="2873.0" y="1373.5" text-anchor="start">25°N</text><text x="166.0" y="720.9" text-anchor="end">30°N</text><text x="2873.0" y="720.9" text-anchor="start">30°N</text></g>
<g><rect x="227.5" y="2154.5" width="107.0" height="126.4" fill="#ff00ff"/><rect x="227.5" y="2280.3" width="107.0" height="126.4" fill="#ff0000"/><rect x="227.5" y="2406.0" width="107.0" height="126.4" fill="#ff6666"/><rect x="227.5" y="2531.8" width="107.0" height="126.4" fill="#ff9966"/><rect x="227.5" y="2657.6" width="107.0" height="126.4" fill="#ffff99"/><rect x="227.5" y="2783.4" width="107.0" height="126.4" fill="#ccffcc"/><rect x="227.5" y="2909.1" width="107.0" height="126.4" fill="#99ffff"/><rect x="227.5" y="3034.9" width="107.0" height="126.4" fill="#0099ff"/><rect x="227.5" y="3160.7" width="107.0" height="126.4" fill="#0000ff"/><rect x="227.5" y="3286.5" width="107.0" height="126.4" fill="#0000a0"/><rect x="227.5" y="3412.2" width="107.0" height="126.4" fill="#000066"/><rect x="227.5" y="2154.5" width="107.0" height="1383.5" fill="none" stroke="#000" stroke-width="3.2"/><line x1="334.5" y1="2154.5" x2="342.5" y2="2154.5" stroke="#000" stroke-width="3.2"/><line x1="334.5" y1="2280.3" x2="349.5" y2="2280.3" stroke="#000" stroke-width="3.2"/><text x="364.0" y="2296.3" class="tk">6</text><line x1="334.5" y1="2406.0" x2="342.5" y2="2406.0" stroke="#000" stroke-width="3.2"/><line x1="334.5" y1="2531.8" x2="349.5" y2="2531.8" stroke="#000" stroke-width="3.2"/><text x="364.0" y="2547.8" class="tk">2</text><line x1="334.5" y1="2657.6" x2="342.5" y2="2657.6" stroke="#000" stroke-width="3.2"/><line x1="334.5" y1="2783.4" x2="349.5" y2="2783.4" stroke="#000" stroke-width="3.2"/><text x="364.0" y="2799.4" class="tk">0</text><line x1="334.5" y1="2909.1" x2="342.5" y2="2909.1" stroke="#000" stroke-width="3.2"/><line x1="334.5" y1="3034.9" x2="349.5" y2="3034.9" stroke="#000" stroke-width="3.2"/><text x="361.8" y="3050.9" class="tk">-2</text><line x1="334.5" y1="3160.7" x2="342.5" y2="3160.7" stroke="#000" stroke-width="3.2"/><line x1="334.5" y1="3286.5" x2="349.5" y2="3286.5" stroke="#000" stroke-width="3.2"/><text x="361.8" y="3302.5" class="tk">-6</text><line x1="334.5" y1="3412.2" x2="342.5" y2="3412.2" stroke="#000" stroke-width="3.2"/><line x1="334.5" y1="3538.0" x2="349.5" y2="3538.0" stroke="#000" stroke-width="3.2"/></g>
<g><circle cx="1713.4" cy="877.5" r="8.5" fill="#000"/><text x="1713.4" y="859.0" text-anchor="middle" class="lb">China</text><circle cx="295.2" cy="1064.1" r="8.5" fill="#000"/><text x="295.2" y="1045.6" text-anchor="middle" class="lb">Bhutan</text><circle cx="568.1" cy="1346.4" r="8.5" fill="#000"/><text x="568.1" y="1327.9" text-anchor="middle" class="lb">India</text><circle cx="330.4" cy="1577.0" r="8.5" fill="#000"/><text x="330.4" y="1558.5" text-anchor="middle" class="lb">Bangladesh</text><circle cx="975.5" cy="1882.1" r="8.5" fill="#000"/><text x="975.5" y="1863.6" text-anchor="middle" class="lb">Myanmar</text><circle cx="1855.2" cy="2190.1" r="8.5" fill="#000"/><text x="1855.2" y="2171.6" text-anchor="middle" class="lb">Laos</text><circle cx="1526.2" cy="2600.9" r="8.5" fill="#000"/><text x="1526.2" y="2582.4" text-anchor="middle" class="lb">Thailand</text><circle cx="1995.5" cy="2982.5" r="8.5" fill="#000"/><text x="1995.5" y="2964.0" text-anchor="middle" class="lb">Cambodia</text><circle cx="2162.5" cy="3244.5" r="8.5" fill="#000"/><text x="2162.5" y="3226.0" text-anchor="middle" class="lb">Vietnam</text></g>
<text x="281" y="2130" text-anchor="middle" class="cj" style="font-weight:bold;font-size:42px">单位:%</text>
<text x="1518" y="299" text-anchor="middle" class="cj" style="font-weight:bold;font-size:129px;letter-spacing:-3.6px">中南半岛平均气温距平空间分布</text>
<text x="1521.5" y="470" text-anchor="middle" class="cj" style="font-weight:bold;font-size:86px">2025年11月07日</text>
<text x="2080.5" y="3513" text-anchor="start" class="cj" style="font-size:60px">审图号：GS京(2024)0236号</text>
<g transform="translate(2530,155) scale(0.15552)">
<defs><linearGradient id="lg" x1="0" y1="60" x2="0" y2="1710" gradientUnits="userSpaceOnUse">
<stop offset="0" stop-color="#62c3e2"/><stop offset="0.3" stop-color="#4fa6d6"/><stop offset="0.55" stop-color="#3477c4"/><stop offset="0.78" stop-color="#1c3fa2"/><stop offset="1" stop-color="#0d2585"/></linearGradient></defs>
<g fill="none" stroke="url(#lg)">
<path d="M 200.1,1201.1 A 748,748 0 1 1 573.8,1568.3" stroke-width="120"/>
<path d="M 557.5,1604.9 A 788,788 0 0 1 163.8,1218.0" stroke-width="40"/>
</g>
<g fill="url(#lg)">
<path d="M575,480 L640,450 L760,430 L870,410 L940,380 L985,320 L990,250 L1010,240 L1035,270 L1028,335 L992,392 L945,440 L905,475 L935,515 L1000,488 L1095,438 L1150,385 L1175,400 L1140,458 L1065,505 L985,545 L935,565 L965,600 L975,625 L920,645 L800,652 L700,642 L690,600 L650,572 L600,562 L575,525 Z"/>
<path d="M230,690 L400,668 L600,650 L800,640 L950,630 L1100,600 L1200,560 L1280,470 L1300,480 L1290,560 L1240,600 L1100,665 L900,700 L700,722 L520,755 L450,800 L400,832 L300,805 L240,765 Z"/>
<path d="M610,875 L700,805 L800,772 L950,742 L1100,722 L1250,718 L1305,780 L1325,845 L1300,905 L1250,962 L1150,1032 L1000,1102 L905,1160 L855,1222 L825,1300 L835,1380 L882,1448 L960,1490 L1080,1502 L1200,1482 L1300,1432 L1400,1372 L1480,1302 L1555,1232 L1532,1262 L1456,1370 L1363,1463 L1256,1539 L1136,1594 L1009,1629 L878,1640 L747,1629 L645,1603 L582,1502 L530,1400 L520,1300 L542,1230 L602,1170 L702,1110 L802,1060 L902,1002 L1002,942 L1055,880 L1060,800 L905,822 L785,862 L745,902 L732,965 L685,962 L662,920 Z"/>
</g>
</g>

</svg>
</body></html>
